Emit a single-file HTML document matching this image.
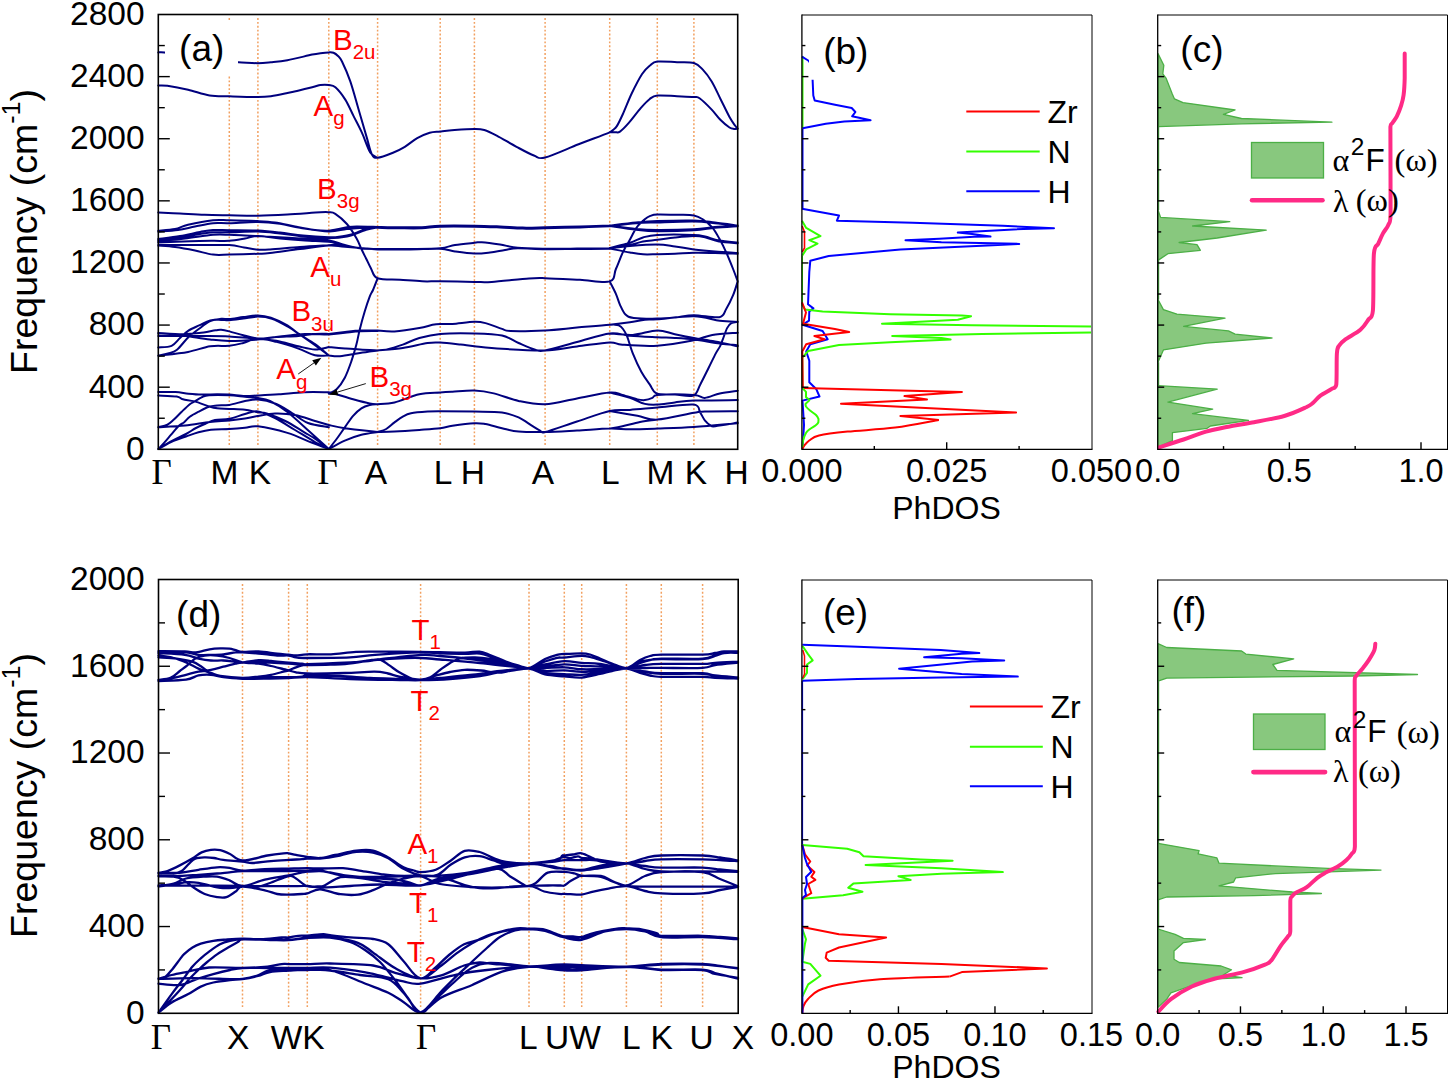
<!DOCTYPE html>
<html><head><meta charset="utf-8"><style>
html,body{margin:0;padding:0;background:#fff;}
svg{display:block;}
</style></head><body>
<svg width="1450" height="1081" viewBox="0 0 1450 1081">
<rect width="1450" height="1081" fill="#fff"/>
<line x1="229.3" y1="18" x2="229.3" y2="447" stroke="#F2A060" stroke-width="1.5" stroke-dasharray="1.9 2"/>
<line x1="257.9" y1="18" x2="257.9" y2="447" stroke="#F2A060" stroke-width="1.5" stroke-dasharray="1.9 2"/>
<line x1="328.8" y1="18" x2="328.8" y2="447" stroke="#F2A060" stroke-width="1.5" stroke-dasharray="1.9 2"/>
<line x1="377.6" y1="18" x2="377.6" y2="447" stroke="#F2A060" stroke-width="1.5" stroke-dasharray="1.9 2"/>
<line x1="440.2" y1="18" x2="440.2" y2="447" stroke="#F2A060" stroke-width="1.5" stroke-dasharray="1.9 2"/>
<line x1="474.4" y1="18" x2="474.4" y2="447" stroke="#F2A060" stroke-width="1.5" stroke-dasharray="1.9 2"/>
<line x1="545.1" y1="18" x2="545.1" y2="447" stroke="#F2A060" stroke-width="1.5" stroke-dasharray="1.9 2"/>
<line x1="609.7" y1="18" x2="609.7" y2="447" stroke="#F2A060" stroke-width="1.5" stroke-dasharray="1.9 2"/>
<line x1="657.3" y1="18" x2="657.3" y2="447" stroke="#F2A060" stroke-width="1.5" stroke-dasharray="1.9 2"/>
<line x1="693.9" y1="18" x2="693.9" y2="447" stroke="#F2A060" stroke-width="1.5" stroke-dasharray="1.9 2"/>
<path d="M158.30,52.40 C159.33,52.43 161.72,52.08 164.50,52.60 C167.28,53.12 169.08,54.30 175.00,55.50 C180.92,56.70 192.50,58.75 200.00,59.80 C207.50,60.85 213.57,61.38 220.00,61.80 C226.43,62.22 232.30,62.07 238.60,62.30 C244.90,62.53 252.42,63.20 257.80,63.20 C263.18,63.20 265.97,62.80 270.90,62.30 C275.83,61.80 280.52,61.48 287.40,60.20 C294.28,58.92 306.68,55.77 312.20,54.60 C317.72,53.43 317.73,53.57 320.50,53.20 C323.27,52.83 326.63,52.47 328.80,52.40 C330.97,52.33 331.97,52.20 333.50,52.80 C335.03,53.40 336.58,54.55 338.00,56.00 C339.42,57.45 339.95,57.27 342.00,61.50 C344.05,65.73 347.53,73.40 350.30,81.40 C353.07,89.40 355.85,100.13 358.60,109.50 C361.35,118.87 364.60,130.15 366.80,137.60 C369.00,145.05 370.00,150.83 371.80,154.20 C373.60,157.57 374.17,158.00 377.60,157.80 C381.03,157.60 387.87,154.83 392.40,153.00 C396.93,151.17 400.67,149.28 404.80,146.80 C408.93,144.32 413.05,140.45 417.20,138.10 C421.35,135.75 425.87,133.82 429.70,132.70 C433.53,131.58 436.07,131.85 440.20,131.40 C444.33,130.95 448.80,130.40 454.50,130.00 C460.20,129.60 469.43,129.00 474.40,129.00 C479.37,129.00 480.58,128.90 484.30,130.00 C488.02,131.10 491.33,132.80 496.70,135.60 C502.07,138.40 510.30,143.48 516.50,146.80 C522.70,150.12 529.13,153.72 533.90,155.50 C538.67,157.28 537.65,159.37 545.10,157.50 C552.55,155.63 567.83,148.50 578.60,144.30 C589.37,140.10 603.97,134.68 609.70,132.30 C613.00,129.92 611.78,131.07 613.00,130.00 C614.22,128.93 615.35,128.57 617.00,125.90 C618.65,123.23 620.43,119.43 622.90,114.00 C625.37,108.57 628.60,99.97 631.80,93.30 C635.00,86.63 639.07,78.63 642.10,74.00 C645.13,69.37 647.47,67.57 650.00,65.50 C652.53,63.43 652.80,62.15 657.30,61.60 C661.80,61.05 670.90,61.97 677.00,62.20 C683.10,62.43 689.60,61.77 693.90,63.00 C698.20,64.23 699.83,66.52 702.80,69.60 C705.77,72.68 708.73,76.57 711.70,81.50 C714.67,86.43 717.63,93.28 720.60,99.20 C723.57,105.12 727.10,112.62 729.50,117.00 C731.90,121.38 733.63,123.57 735.00,125.50 C736.37,127.43 737.25,128.08 737.70,128.60 M158.30,85.50 C159.82,85.55 162.43,85.10 167.40,85.80 C172.37,86.50 181.07,88.10 188.10,89.70 C195.13,91.30 202.73,94.30 209.60,95.40 C216.47,96.50 221.27,96.02 229.30,96.30 C237.33,96.58 250.87,97.10 257.80,97.10 C264.73,97.10 265.97,96.98 270.90,96.30 C275.83,95.62 280.52,94.52 287.40,93.00 C294.28,91.48 306.68,88.53 312.20,87.20 C317.72,85.87 317.73,85.37 320.50,85.00 C323.27,84.63 326.32,84.63 328.80,85.00 C331.28,85.37 332.65,84.77 335.40,87.20 C338.15,89.63 342.27,94.78 345.30,99.60 C348.33,104.42 350.83,110.58 353.60,116.10 C356.37,121.62 359.13,126.63 361.90,132.70 C364.67,138.77 367.58,148.32 370.20,152.50 C372.82,156.68 376.37,156.92 377.60,157.80 M609.70,132.30 C610.58,132.28 613.28,132.32 615.00,132.20 C616.72,132.08 617.70,133.15 620.00,131.60 C622.30,130.05 625.35,126.82 628.80,122.90 C632.25,118.98 637.25,112.05 640.70,108.10 C644.15,104.15 646.73,101.30 649.50,99.20 C652.27,97.10 652.72,96.00 657.30,95.50 C661.88,95.00 670.90,95.95 677.00,96.20 C683.10,96.45 690.08,96.62 693.90,97.00 C697.72,97.38 696.93,96.40 699.90,98.50 C702.87,100.60 708.25,106.02 711.70,109.60 C715.15,113.18 717.63,117.02 720.60,120.00 C723.57,122.98 727.27,126.02 729.50,127.50 C731.73,128.98 732.63,128.72 734.00,128.90 C735.37,129.08 737.08,128.65 737.70,128.60 M158.30,212.40 C161.92,212.58 172.27,213.10 180.00,213.50 C187.73,213.90 196.48,214.50 204.70,214.80 C212.92,215.10 220.43,215.15 229.30,215.30 C238.17,215.45 248.22,215.83 257.90,215.70 C267.58,215.57 276.97,215.07 287.40,214.50 C297.83,213.93 313.60,212.67 320.50,212.30 C327.40,211.93 326.33,212.05 328.80,212.30 C331.27,212.55 332.28,211.85 335.30,213.80 C338.32,215.75 343.35,219.90 346.90,224.00 C350.45,228.10 354.18,234.23 356.60,238.40 C359.02,242.57 359.80,245.62 361.40,249.00 C363.00,252.38 364.60,255.47 366.20,258.70 C367.80,261.93 369.10,265.13 371.00,268.40 C372.90,271.67 372.77,276.40 377.60,278.30 C382.43,280.20 392.57,279.30 400.00,279.80 C407.43,280.30 415.50,281.05 422.20,281.30 C428.90,281.55 431.50,281.20 440.20,281.30 C448.90,281.40 465.82,281.80 474.40,281.90 C482.98,282.00 482.60,282.47 491.70,281.90 C500.80,281.33 520.10,279.12 529.00,278.50 C537.90,277.88 536.60,277.98 545.10,278.20 C553.60,278.42 569.23,279.27 580.00,279.80 C590.77,280.33 603.72,283.20 609.70,281.40 C615.68,279.60 613.72,273.83 615.90,269.00 C618.08,264.17 620.50,257.23 622.80,252.40 C625.10,247.57 627.40,244.13 629.70,240.00 C632.00,235.87 634.08,231.05 636.60,227.60 C639.12,224.15 642.52,221.25 644.80,219.30 C647.08,217.35 648.22,216.70 650.30,215.90 C652.38,215.10 652.70,214.68 657.30,214.50 C661.90,214.32 671.80,214.65 677.90,214.80 C684.00,214.95 689.75,214.65 693.90,215.40 C698.05,216.15 699.72,217.27 702.80,219.30 C705.88,221.33 709.65,224.38 712.40,227.60 C715.15,230.82 717.00,234.47 719.30,238.60 C721.60,242.73 723.90,247.33 726.20,252.40 C728.50,257.47 731.18,264.17 733.10,269.00 C735.02,273.83 736.93,279.33 737.70,281.40 M328.80,393.60 C330.10,392.88 333.93,391.95 336.60,389.30 C339.27,386.65 342.33,382.38 344.80,377.70 C347.27,373.02 349.47,366.72 351.40,361.20 C353.33,355.68 355.02,349.85 356.40,344.60 C357.78,339.35 358.32,335.22 359.70,329.70 C361.08,324.18 363.03,317.02 364.70,311.50 C366.37,305.98 368.32,300.18 369.70,296.60 C371.08,293.02 371.68,293.05 373.00,290.00 C374.32,286.95 376.83,280.25 377.60,278.30 M609.70,281.40 C610.73,283.47 614.18,289.90 615.90,293.80 C617.62,297.70 618.40,301.35 620.00,304.80 C621.60,308.25 623.20,312.32 625.50,314.50 C627.80,316.68 628.50,317.22 633.80,317.90 C639.10,318.58 650.43,318.67 657.30,318.60 C664.17,318.53 668.90,318.07 675.00,317.50 C681.10,316.93 686.52,315.25 693.90,315.20 C701.28,315.15 713.92,318.23 719.30,317.20 C724.68,316.17 723.90,312.67 726.20,309.00 C728.50,305.33 731.18,299.80 733.10,295.20 C735.02,290.60 736.93,283.70 737.70,281.40 M158.30,230.80 C161.08,230.50 170.05,230.00 175.00,229.00 C179.95,228.00 181.67,226.25 188.00,224.80 C194.33,223.35 206.12,221.05 213.00,220.30 C219.88,219.55 221.82,220.17 229.30,220.30 C236.78,220.43 250.28,220.73 257.90,221.10 C265.52,221.47 268.82,221.60 275.00,222.50 C281.18,223.40 288.33,225.25 295.00,226.50 C301.67,227.75 309.37,229.30 315.00,230.00 C320.63,230.70 325.10,230.82 328.80,230.70 C332.50,230.58 334.18,229.87 337.20,229.30 C340.22,228.73 343.67,227.78 346.90,227.30 C350.13,226.82 351.48,226.47 356.60,226.40 C361.72,226.33 374.10,226.82 377.60,226.90 M158.30,231.60 C161.58,231.33 171.88,230.85 178.00,230.00 C184.12,229.15 189.17,227.63 195.00,226.50 C200.83,225.37 207.28,223.75 213.00,223.20 C218.72,222.65 221.82,223.40 229.30,223.20 C236.78,223.00 249.45,221.90 257.90,222.00 C266.35,222.10 272.98,222.83 280.00,223.80 C287.02,224.77 291.87,226.53 300.00,227.80 C308.13,229.07 320.98,231.20 328.80,231.40 C336.62,231.60 340.67,229.65 346.90,229.00 C353.13,228.35 361.08,227.77 366.20,227.50 C371.32,227.23 375.70,227.42 377.60,227.40 M158.30,239.00 C161.92,238.50 173.05,237.17 180.00,236.00 C186.95,234.83 194.50,233.00 200.00,232.00 C205.50,231.00 208.12,230.30 213.00,230.00 C217.88,229.70 221.82,230.10 229.30,230.20 C236.78,230.30 249.45,230.22 257.90,230.60 C266.35,230.98 272.48,231.68 280.00,232.50 C287.52,233.32 294.87,234.70 303.00,235.50 C311.13,236.30 323.10,237.05 328.80,237.30 C334.50,237.55 334.18,237.28 337.20,237.00 C340.22,236.72 343.67,236.32 346.90,235.60 C350.13,234.88 353.38,233.83 356.60,232.70 C359.82,231.57 362.70,229.77 366.20,228.80 C369.70,227.83 375.70,227.22 377.60,226.90 M158.30,240.20 C161.92,239.75 173.05,238.53 180.00,237.50 C186.95,236.47 194.50,234.87 200.00,234.00 C205.50,233.13 208.12,232.58 213.00,232.30 C217.88,232.02 221.82,232.43 229.30,232.30 C236.78,232.17 249.45,231.30 257.90,231.50 C266.35,231.70 272.48,232.67 280.00,233.50 C287.52,234.33 294.87,235.70 303.00,236.50 C311.13,237.30 321.48,238.30 328.80,238.30 C336.12,238.30 340.67,237.92 346.90,236.50 C353.13,235.08 361.08,231.32 366.20,229.80 C371.32,228.28 375.70,227.80 377.60,227.40 M158.30,241.20 C162.75,240.75 175.88,239.57 185.00,238.50 C194.12,237.43 205.62,235.42 213.00,234.80 C220.38,234.18 223.97,234.68 229.30,234.80 C234.63,234.92 240.23,235.27 245.00,235.50 C249.77,235.73 253.73,235.98 257.90,236.20 C262.07,236.42 262.98,236.42 270.00,236.80 C277.02,237.18 290.20,237.90 300.00,238.50 C309.80,239.10 321.80,239.45 328.80,240.40 C335.80,241.35 338.18,243.15 342.00,244.20 C345.82,245.25 348.47,245.97 351.70,246.70 C354.93,247.43 357.08,248.20 361.40,248.60 C365.72,249.00 374.90,249.02 377.60,249.10 M158.30,242.40 C163.58,242.20 180.88,241.47 190.00,241.20 C199.12,240.93 206.45,240.87 213.00,240.80 C219.55,240.73 223.97,241.18 229.30,240.80 C234.63,240.42 240.23,239.30 245.00,238.50 C249.77,237.70 252.07,236.00 257.90,236.00 C263.73,236.00 272.15,237.75 280.00,238.50 C287.85,239.25 296.87,239.95 305.00,240.50 C313.13,241.05 322.63,241.12 328.80,241.80 C334.97,242.48 336.57,243.50 342.00,244.60 C347.43,245.70 355.47,247.65 361.40,248.40 C367.33,249.15 374.90,248.98 377.60,249.10 M158.30,245.10 C165.25,245.10 188.17,245.10 200.00,245.10 C211.83,245.10 221.97,244.70 229.30,245.10 C236.63,245.50 239.23,246.73 244.00,247.50 C248.77,248.27 253.57,249.37 257.90,249.70 C262.23,250.03 262.98,249.95 270.00,249.50 C277.02,249.05 290.20,247.72 300.00,247.00 C309.80,246.28 322.60,245.58 328.80,245.20 C335.00,244.82 332.83,244.32 337.20,244.70 C341.57,245.08 348.27,246.73 355.00,247.50 C361.73,248.27 373.83,249.00 377.60,249.30 M158.30,245.60 C161.08,245.83 168.88,246.18 175.00,247.00 C181.12,247.82 188.67,249.23 195.00,250.50 C201.33,251.77 207.28,253.92 213.00,254.60 C218.72,255.28 221.82,254.73 229.30,254.60 C236.78,254.47 251.12,254.07 257.90,253.80 C264.68,253.53 262.98,253.80 270.00,253.00 C277.02,252.20 290.20,250.23 300.00,249.00 C309.80,247.77 321.30,245.97 328.80,245.60 C336.30,245.23 336.87,246.15 345.00,246.80 C353.13,247.45 372.17,249.05 377.60,249.50 M377.60,226.90 C381.33,226.97 392.60,227.25 400.00,227.30 C407.40,227.35 415.30,227.47 422.00,227.20 C428.70,226.93 431.47,225.95 440.20,225.70 C448.93,225.45 464.43,225.57 474.40,225.70 C484.37,225.83 491.95,226.18 500.00,226.50 C508.05,226.82 515.18,227.47 522.70,227.60 C530.22,227.73 535.55,227.50 545.10,227.30 C554.65,227.10 569.23,226.70 580.00,226.40 C590.77,226.10 604.75,225.65 609.70,225.50 M377.60,227.80 C381.33,227.88 392.60,228.22 400.00,228.30 C407.40,228.38 415.30,228.57 422.00,228.30 C428.70,228.03 431.47,226.97 440.20,226.70 C448.93,226.43 464.43,226.57 474.40,226.70 C484.37,226.83 491.95,227.18 500.00,227.50 C508.05,227.82 515.18,228.47 522.70,228.60 C530.22,228.73 535.55,228.50 545.10,228.30 C554.65,228.10 569.23,227.73 580.00,227.40 C590.77,227.07 604.75,226.48 609.70,226.30 M377.60,249.10 C383.00,249.08 399.57,249.15 410.00,249.00 C420.43,248.85 432.70,248.87 440.20,248.20 C447.70,247.53 449.30,245.90 455.00,245.00 C460.70,244.10 469.93,243.27 474.40,242.80 C478.87,242.33 477.53,241.92 481.80,242.20 C486.07,242.48 494.00,243.57 500.00,244.50 C506.00,245.43 510.28,247.10 517.80,247.80 C525.32,248.50 535.23,248.57 545.10,248.70 C554.97,248.83 566.23,248.68 577.00,248.60 C587.77,248.52 604.25,248.27 609.70,248.20 M377.60,249.60 C383.00,249.58 399.57,249.63 410.00,249.50 C420.43,249.37 432.70,248.47 440.20,248.80 C447.70,249.13 449.30,250.70 455.00,251.50 C460.70,252.30 468.57,253.43 474.40,253.60 C480.23,253.77 484.90,253.10 490.00,252.50 C495.10,251.90 500.37,250.70 505.00,250.00 C509.63,249.30 511.12,248.43 517.80,248.30 C524.48,248.17 535.23,249.08 545.10,249.20 C554.97,249.32 566.23,249.07 577.00,249.00 C587.77,248.93 604.25,248.83 609.70,248.80 M609.70,225.50 C614.08,225.00 628.07,223.25 636.00,222.50 C643.93,221.75 647.65,221.33 657.30,221.00 C666.95,220.67 684.28,220.25 693.90,220.50 C703.52,220.75 707.70,221.67 715.00,222.50 C722.30,223.33 733.92,225.00 737.70,225.50 M609.70,226.00 C614.08,225.53 628.07,223.80 636.00,223.20 C643.93,222.60 647.65,222.67 657.30,222.40 C666.95,222.13 684.28,221.45 693.90,221.60 C703.52,221.75 707.70,222.53 715.00,223.30 C722.30,224.07 733.92,225.72 737.70,226.20 M609.70,225.50 C614.08,226.08 628.07,228.25 636.00,229.00 C643.93,229.75 647.65,229.97 657.30,230.00 C666.95,230.03 684.28,229.70 693.90,229.20 C703.52,228.70 707.70,227.62 715.00,227.00 C722.30,226.38 733.92,225.75 737.70,225.50 M609.70,226.00 C614.08,226.63 628.07,228.92 636.00,229.80 C643.93,230.68 647.65,231.22 657.30,231.30 C666.95,231.38 684.28,230.88 693.90,230.30 C703.52,229.72 707.70,228.48 715.00,227.80 C722.30,227.12 733.92,226.47 737.70,226.20 M609.70,248.00 C613.08,247.13 624.45,244.55 630.00,242.80 C635.55,241.05 638.45,238.82 643.00,237.50 C647.55,236.18 648.82,235.33 657.30,234.90 C665.78,234.47 685.95,234.62 693.90,234.90 C701.85,235.18 700.82,235.67 705.00,236.60 C709.18,237.53 713.55,239.52 719.00,240.50 C724.45,241.48 734.58,242.17 737.70,242.50 M609.70,248.40 C613.08,247.83 624.45,246.15 630.00,245.00 C635.55,243.85 638.45,242.37 643.00,241.50 C647.55,240.63 651.97,240.47 657.30,239.80 C662.63,239.13 668.90,238.13 675.00,237.50 C681.10,236.87 688.90,236.05 693.90,236.00 C698.90,235.95 700.82,236.28 705.00,237.20 C709.18,238.12 713.55,240.50 719.00,241.50 C724.45,242.50 734.58,242.92 737.70,243.20 M609.70,248.20 C613.08,247.83 622.07,246.60 630.00,246.00 C637.93,245.40 649.80,244.52 657.30,244.60 C664.80,244.68 668.90,245.70 675.00,246.50 C681.10,247.30 687.23,248.57 693.90,249.40 C700.57,250.23 707.70,250.90 715.00,251.50 C722.30,252.10 733.92,252.75 737.70,253.00 M609.70,248.60 C613.08,249.25 624.45,251.55 630.00,252.50 C635.55,253.45 638.45,254.02 643.00,254.30 C647.55,254.58 651.97,254.28 657.30,254.20 C662.63,254.12 668.90,254.03 675.00,253.80 C681.10,253.57 687.23,252.93 693.90,252.80 C700.57,252.67 707.70,252.83 715.00,253.00 C722.30,253.17 733.92,253.67 737.70,253.80 M158.30,355.70 C159.92,355.33 164.88,354.50 168.00,353.50 C171.12,352.50 173.65,352.37 177.00,349.70 C180.35,347.03 184.42,341.00 188.10,337.50 C191.78,334.00 195.42,331.45 199.10,328.70 C202.78,325.95 206.52,322.65 210.20,321.00 C213.88,319.35 218.02,319.13 221.20,318.80 C224.38,318.47 225.62,319.28 229.30,319.00 C232.98,318.72 238.53,317.70 243.30,317.10 C248.07,316.50 253.30,315.30 257.90,315.40 C262.50,315.50 265.98,316.03 270.90,317.70 C275.82,319.37 282.82,322.73 287.40,325.40 C291.98,328.07 293.80,330.58 298.40,333.70 C303.00,336.82 309.93,340.47 315.00,344.10 C320.07,347.73 326.50,353.60 328.80,355.50 M158.30,347.40 C160.52,347.13 167.98,347.37 171.60,345.80 C175.22,344.23 177.25,340.48 180.00,338.00 C182.75,335.52 184.92,333.00 188.10,330.90 C191.28,328.80 195.42,327.15 199.10,325.40 C202.78,323.65 206.52,321.32 210.20,320.40 C213.88,319.48 218.02,319.92 221.20,319.90 C224.38,319.88 225.62,320.52 229.30,320.30 C232.98,320.08 238.53,319.22 243.30,318.60 C248.07,317.98 253.12,316.58 257.90,316.60 C262.68,316.62 266.98,317.02 272.00,318.70 C277.02,320.38 283.33,324.02 288.00,326.70 C292.67,329.38 295.50,331.70 300.00,334.80 C304.50,337.90 310.20,341.85 315.00,345.30 C319.80,348.75 326.50,353.80 328.80,355.50 M158.30,332.90 C162.35,333.12 175.80,334.17 182.60,334.20 C189.40,334.23 193.58,333.75 199.10,333.10 C204.62,332.45 212.02,330.85 215.70,330.30 C219.38,329.75 218.93,329.62 221.20,329.80 C223.47,329.98 225.62,330.48 229.30,331.40 C232.98,332.32 238.53,334.10 243.30,335.30 C248.07,336.50 252.38,337.68 257.90,338.60 C263.42,339.52 269.65,339.52 276.40,340.80 C283.15,342.08 291.97,344.85 298.40,346.30 C304.83,347.75 309.93,349.37 315.00,349.50 C320.07,349.63 326.50,347.50 328.80,347.10 M158.30,335.90 C165.25,335.92 188.17,335.92 200.00,336.00 C211.83,336.08 219.65,335.97 229.30,336.40 C238.95,336.83 250.05,338.50 257.90,338.60 C265.75,338.70 269.65,337.45 276.40,337.00 C283.15,336.55 291.97,336.40 298.40,335.90 C304.83,335.40 309.93,334.33 315.00,334.00 C320.07,333.67 326.50,333.92 328.80,333.90 M158.30,355.70 C163.27,355.07 179.45,353.47 188.10,351.90 C196.75,350.33 203.33,347.32 210.20,346.30 C217.07,345.28 223.78,346.35 229.30,345.80 C234.82,345.25 238.53,344.20 243.30,343.00 C248.07,341.80 252.38,338.78 257.90,338.60 C263.42,338.42 269.65,340.23 276.40,341.90 C283.15,343.57 291.97,346.38 298.40,348.60 C304.83,350.82 309.93,354.07 315.00,355.20 C320.07,356.33 326.50,355.37 328.80,355.40 M158.30,333.40 C161.08,333.55 169.72,333.78 175.00,334.30 C180.28,334.82 184.17,335.63 190.00,336.50 C195.83,337.37 203.45,338.75 210.00,339.50 C216.55,340.25 221.32,341.00 229.30,341.00 C237.28,341.00 249.45,340.25 257.90,339.50 C266.35,338.75 272.15,337.42 280.00,336.50 C287.85,335.58 296.87,334.32 305.00,334.00 C313.13,333.68 324.83,334.50 328.80,334.60 M328.80,333.90 C331.50,333.58 339.80,332.57 345.00,332.00 C350.20,331.43 354.57,330.75 360.00,330.50 C365.43,330.25 374.67,330.50 377.60,330.50 M328.80,334.60 C331.50,334.30 339.80,333.37 345.00,332.80 C350.20,332.23 354.57,331.50 360.00,331.20 C365.43,330.90 374.67,331.03 377.60,331.00 M328.80,347.10 C331.50,347.33 339.80,348.08 345.00,348.50 C350.20,348.92 354.57,349.28 360.00,349.60 C365.43,349.92 374.67,350.27 377.60,350.40 M328.80,355.40 C330.67,355.53 334.80,356.62 340.00,356.20 C345.20,355.78 353.73,353.87 360.00,352.90 C366.27,351.93 374.67,350.82 377.60,350.40 M377.60,330.50 C380.42,330.65 387.55,331.80 394.50,331.40 C401.45,331.00 412.97,329.20 419.30,328.10 C425.63,327.00 429.02,325.50 432.50,324.80 C435.98,324.10 436.88,324.05 440.20,323.90 C443.52,323.75 446.70,324.25 452.40,323.90 C458.10,323.55 468.88,321.93 474.40,321.80 C479.92,321.67 480.90,321.92 485.50,323.10 C490.10,324.28 497.87,327.58 502.00,328.90 C506.13,330.22 503.12,330.75 510.30,331.00 C517.48,331.25 533.98,330.97 545.10,330.40 C556.22,329.83 566.23,328.53 577.00,327.60 C587.77,326.67 600.88,325.70 609.70,324.80 C618.52,323.90 624.03,323.05 629.90,322.20 C635.77,321.35 640.33,320.20 644.90,319.70 C649.47,319.20 649.13,319.78 657.30,319.20 C665.47,318.62 683.48,315.95 693.90,316.20 C704.32,316.45 712.50,319.75 719.80,320.70 C727.10,321.65 734.72,321.70 737.70,321.90 M377.60,350.40 C379.03,350.27 382.00,350.57 386.20,349.60 C390.40,348.63 397.28,346.53 402.80,344.60 C408.32,342.67 413.07,339.78 419.30,338.00 C425.53,336.22 431.02,334.67 440.20,333.90 C449.38,333.13 464.10,333.13 474.40,333.40 C484.70,333.67 494.63,333.90 502.00,335.50 C509.37,337.10 513.07,340.65 518.60,343.00 C524.13,345.35 530.78,348.37 535.20,349.60 C539.62,350.83 538.13,351.67 545.10,350.40 C552.07,349.13 566.23,344.83 577.00,342.00 C587.77,339.17 600.88,334.45 609.70,333.40 C618.52,332.35 621.97,335.07 629.90,335.70 C637.83,336.33 649.82,336.83 657.30,337.20 C664.78,337.57 668.70,337.53 674.80,337.90 C680.90,338.27 687.65,338.65 693.90,339.40 C700.15,340.15 705.00,341.40 712.30,342.40 C719.60,343.40 733.47,344.90 737.70,345.40 M377.60,350.40 C381.80,349.98 394.47,349.13 402.80,347.90 C411.13,346.67 421.37,343.88 427.60,343.00 C433.83,342.12 434.68,342.33 440.20,342.60 C445.72,342.87 455.00,343.98 460.70,344.60 C466.40,345.22 467.52,345.60 474.40,346.30 C481.28,347.00 490.22,348.12 502.00,348.80 C513.78,349.48 532.60,350.78 545.10,350.40 C557.60,350.02 566.23,347.83 577.00,346.50 C587.77,345.17 602.13,342.70 609.70,342.40 C617.27,342.10 614.47,344.15 622.40,344.70 C630.33,345.25 645.38,346.45 657.30,345.70 C669.22,344.95 684.73,342.00 693.90,340.20 C703.07,338.40 705.00,336.15 712.30,334.90 C719.60,333.65 733.47,333.07 737.70,332.70 M609.70,333.40 C613.57,333.65 624.97,335.40 632.90,334.90 C640.83,334.40 650.32,330.52 657.30,330.40 C664.28,330.28 668.70,332.95 674.80,334.20 C680.90,335.45 687.20,336.68 693.90,337.90 C700.60,339.12 707.70,340.12 715.00,341.50 C722.30,342.88 733.92,345.42 737.70,346.20 M609.70,324.80 C610.42,324.77 612.48,324.52 614.00,324.60 C615.52,324.68 617.30,324.57 618.80,325.30 C620.30,326.03 621.60,327.12 623.00,329.00 C624.40,330.88 625.57,332.53 627.20,336.60 C628.83,340.67 630.45,347.55 632.80,353.40 C635.15,359.25 638.48,366.53 641.30,371.70 C644.12,376.87 647.13,380.77 649.70,384.40 C652.27,388.03 652.48,391.82 656.70,393.50 C660.92,395.18 668.90,394.15 675.00,394.50 C681.10,394.85 689.08,397.28 693.30,395.60 C697.52,393.92 697.72,389.08 700.30,384.40 C702.88,379.72 706.22,372.67 708.80,367.50 C711.38,362.33 713.93,356.92 715.80,353.40 C717.67,349.88 718.83,348.73 720.00,346.40 C721.17,344.07 721.62,342.45 722.80,339.40 C723.98,336.35 725.68,330.80 727.10,328.10 C728.52,325.40 729.53,324.25 731.30,323.20 C733.07,322.15 736.63,322.03 737.70,321.80 M158.30,392.00 C161.17,392.02 170.47,391.82 175.50,392.10 C180.53,392.38 184.15,393.28 188.50,393.70 C192.85,394.12 196.83,394.50 201.60,394.60 C206.37,394.70 212.48,394.30 217.10,394.30 C221.72,394.30 224.65,394.32 229.30,394.60 C233.95,394.88 240.23,395.85 245.00,396.00 C249.77,396.15 252.23,395.78 257.90,395.50 C263.57,395.22 271.32,394.85 279.00,394.30 C286.68,393.75 295.70,392.55 304.00,392.20 C312.30,391.85 324.67,392.20 328.80,392.20 M158.30,395.50 C161.37,395.67 172.60,395.87 176.70,396.50 C180.80,397.13 179.90,398.48 182.90,399.30 C185.90,400.12 190.35,400.22 194.70,401.40 C199.05,402.58 205.27,405.25 209.00,406.40 C212.73,407.55 213.72,407.88 217.10,408.30 C220.48,408.72 224.65,408.65 229.30,408.90 C233.95,409.15 240.23,409.23 245.00,409.80 C249.77,410.37 254.28,411.68 257.90,412.30 C261.52,412.92 262.13,412.05 266.70,413.50 C271.27,414.95 279.08,417.90 285.30,421.00 C291.52,424.10 298.82,429.00 304.00,432.10 C309.18,435.20 312.27,436.78 316.40,439.60 C320.53,442.42 326.73,447.43 328.80,449.00 M158.30,427.20 C159.82,426.78 164.85,425.93 167.40,424.70 C169.95,423.47 171.22,421.97 173.60,419.80 C175.98,417.63 179.00,414.30 181.70,411.70 C184.40,409.10 187.63,405.92 189.80,404.20 C191.97,402.48 192.73,402.53 194.70,401.40 C196.67,400.27 199.22,398.43 201.60,397.40 C203.98,396.37 204.38,395.57 209.00,395.20 C213.62,394.83 223.30,394.93 229.30,395.20 C235.30,395.47 240.23,396.33 245.00,396.80 C249.77,397.27 253.73,397.30 257.90,398.00 C262.07,398.70 265.08,398.67 270.00,401.00 C274.92,403.33 280.73,406.83 287.40,412.00 C294.07,417.17 303.10,425.83 310.00,432.00 C316.90,438.17 325.67,446.17 328.80,449.00 M158.30,449.00 C159.30,447.95 162.17,445.08 164.30,442.70 C166.43,440.32 168.72,437.48 171.10,434.70 C173.48,431.92 176.42,428.08 178.60,426.00 C180.78,423.92 182.33,423.75 184.20,422.20 C186.07,420.65 187.42,418.45 189.80,416.70 C192.18,414.95 195.30,413.37 198.50,411.70 C201.70,410.03 205.90,407.73 209.00,406.70 C212.10,405.67 213.72,405.80 217.10,405.50 C220.48,405.20 224.65,405.63 229.30,404.90 C233.95,404.17 240.23,402.00 245.00,401.10 C249.77,400.20 252.90,399.10 257.90,399.50 C262.90,399.90 269.32,401.25 275.00,403.50 C280.68,405.75 286.50,409.75 292.00,413.00 C297.50,416.25 301.87,420.63 308.00,423.00 C314.13,425.37 325.33,426.50 328.80,427.20 M158.30,449.00 C160.58,447.67 167.38,443.50 172.00,441.00 C176.62,438.50 182.00,436.17 186.00,434.00 C190.00,431.83 192.83,429.67 196.00,428.00 C199.17,426.33 201.83,425.33 205.00,424.00 C208.17,422.67 210.95,420.87 215.00,420.00 C219.05,419.13 224.30,419.80 229.30,418.80 C234.30,417.80 240.23,415.23 245.00,414.00 C249.77,412.77 252.90,410.73 257.90,411.40 C262.90,412.07 268.82,414.90 275.00,418.00 C281.18,421.10 288.33,426.00 295.00,430.00 C301.67,434.00 309.37,438.83 315.00,442.00 C320.63,445.17 326.50,447.83 328.80,449.00 M158.30,449.00 C160.85,447.65 168.98,442.98 173.60,440.90 C178.22,438.82 181.85,437.95 186.00,436.50 C190.15,435.05 194.35,433.33 198.50,432.20 C202.65,431.07 205.77,430.23 210.90,429.70 C216.03,429.17 223.62,429.32 229.30,429.00 C234.98,428.68 240.23,428.25 245.00,427.80 C249.77,427.35 250.83,425.45 257.90,426.30 C264.97,427.15 278.35,430.15 287.40,432.90 C296.45,435.65 305.30,440.12 312.20,442.80 C319.10,445.48 326.03,447.97 328.80,449.00 M158.30,427.20 C162.75,426.92 176.38,426.37 185.00,425.50 C193.62,424.63 202.62,422.83 210.00,422.00 C217.38,421.17 223.47,421.08 229.30,420.50 C235.13,419.92 240.23,419.25 245.00,418.50 C249.77,417.75 252.90,416.83 257.90,416.00 C262.90,415.17 268.82,413.67 275.00,413.50 C281.18,413.33 288.33,413.75 295.00,415.00 C301.67,416.25 309.37,419.33 315.00,421.00 C320.63,422.67 326.50,424.33 328.80,425.00 M328.80,392.20 C330.10,392.55 332.55,393.13 336.60,394.30 C340.65,395.47 347.58,397.68 353.10,399.20 C358.62,400.72 365.62,402.57 369.70,403.40 C373.78,404.23 376.28,404.07 377.60,404.20 M328.80,449.00 C330.10,447.33 333.93,442.60 336.60,439.00 C339.27,435.40 342.05,431.27 344.80,427.40 C347.55,423.53 350.33,418.98 353.10,415.80 C355.87,412.62 358.63,410.10 361.40,408.30 C364.17,406.50 367.00,405.68 369.70,405.00 C372.40,404.32 376.28,404.33 377.60,404.20 M328.80,449.00 C331.47,447.60 339.37,442.97 344.80,440.60 C350.23,438.23 355.93,436.23 361.40,434.80 C366.87,433.37 374.90,432.47 377.60,432.00 M328.80,425.00 C331.47,425.53 336.67,427.03 344.80,428.20 C352.93,429.37 372.13,431.37 377.60,432.00 M377.60,404.20 C380.42,403.92 387.55,404.15 394.50,402.50 C401.45,400.85 411.68,395.95 419.30,394.30 C426.92,392.65 434.68,393.02 440.20,392.60 C445.72,392.18 446.70,392.13 452.40,391.80 C458.10,391.47 467.50,390.33 474.40,390.60 C481.30,390.87 486.43,391.68 493.80,393.40 C501.17,395.12 510.05,399.10 518.60,400.90 C527.15,402.70 535.37,404.62 545.10,404.20 C554.83,403.78 566.23,400.33 577.00,398.40 C587.77,396.47 602.13,393.18 609.70,392.60 C617.27,392.02 617.78,393.77 622.40,394.90 C627.02,396.03 633.65,398.53 637.40,399.40 C641.15,400.27 642.40,400.35 644.90,400.10 C647.40,399.85 650.33,398.77 652.40,397.90 C654.47,397.03 652.40,395.40 657.30,394.90 C664.22,394.40 685.98,394.40 693.90,394.90 C701.82,395.40 700.48,398.15 704.80,397.90 C709.12,397.65 714.32,394.60 719.80,393.40 C725.28,392.20 734.72,391.15 737.70,390.70 M609.70,392.60 C613.07,393.48 624.03,396.02 629.90,397.90 C635.77,399.78 640.33,402.78 644.90,403.90 C649.47,405.02 652.32,404.85 657.30,404.60 C662.28,404.35 668.70,403.07 674.80,402.40 C680.90,401.73 683.42,400.98 693.90,400.60 C704.38,400.22 730.40,400.18 737.70,400.10 M377.60,432.00 C379.03,431.50 383.38,430.60 386.20,429.00 C389.02,427.40 391.73,424.47 394.50,422.40 C397.27,420.33 400.05,418.12 402.80,416.60 C405.55,415.08 406.87,414.13 411.00,413.30 C415.13,412.47 422.73,411.93 427.60,411.60 C432.47,411.27 432.40,411.30 440.20,411.30 C448.00,411.30 464.10,411.40 474.40,411.60 C484.70,411.80 494.63,411.53 502.00,412.50 C509.37,413.47 513.63,415.20 518.60,417.40 C523.57,419.60 528.22,423.48 531.80,425.70 C535.38,427.92 537.88,429.65 540.10,430.70 C542.32,431.75 540.10,433.53 545.10,432.00 C551.25,430.47 566.23,425.00 577.00,421.50 C587.77,418.00 600.88,412.93 609.70,411.00 C618.52,409.07 621.97,410.47 629.90,409.90 C637.83,409.33 646.63,408.48 657.30,407.60 C667.97,406.72 686.73,403.73 693.90,404.60 C700.30,405.47 698.48,410.18 700.30,412.80 C702.12,415.42 703.05,418.17 704.80,420.30 C706.55,422.43 709.05,424.60 710.80,425.60 C712.55,426.60 710.82,426.80 715.30,426.30 C719.78,425.80 733.97,423.22 737.70,422.60 M609.70,411.00 C614.32,411.80 629.47,414.37 637.40,415.80 C645.33,417.23 647.88,420.10 657.30,419.60 C666.72,419.10 685.98,414.13 693.90,412.80 C701.82,411.47 697.50,411.85 704.80,411.60 C712.10,411.35 732.22,411.35 737.70,411.30 M377.60,432.00 C380.42,431.92 387.55,431.85 394.50,431.50 C401.45,431.15 411.68,430.45 419.30,429.90 C426.92,429.35 434.68,428.90 440.20,428.20 C445.72,427.50 446.70,426.53 452.40,425.70 C458.10,424.87 468.88,423.47 474.40,423.20 C479.92,422.93 480.90,423.27 485.50,424.10 C490.10,424.93 496.48,426.97 502.00,428.20 C507.52,429.43 511.42,430.87 518.60,431.50 C525.78,432.13 535.37,432.17 545.10,432.00 C554.83,431.83 566.23,431.07 577.00,430.50 C587.77,429.93 600.88,428.80 609.70,428.60 C618.52,428.40 621.97,429.30 629.90,429.30 C637.83,429.30 646.63,428.97 657.30,428.60 C667.97,428.23 680.50,427.98 693.90,427.10 C707.30,426.22 730.40,423.93 737.70,423.30 M609.70,428.60 C611.82,428.22 617.35,427.40 622.40,426.30 C627.45,425.20 634.18,423.12 640.00,422.00 C645.82,420.88 654.42,420.00 657.30,419.60" fill="none" stroke="#00007e" stroke-width="2" stroke-linejoin="round" stroke-linecap="round"/>
<rect x="165" y="20" width="73" height="56" fill="#fff"/>
<text x="201.7" y="61" font-family="Liberation Sans" font-size="37" text-anchor="middle" fill="#000" >(a)</text>
<text x="333.0" y="49.8" font-family="Liberation Sans" font-size="29.5" fill="#ff0000">B<tspan font-size="20.5" dy="9.3">2u</tspan></text>
<text x="313.6" y="116" font-family="Liberation Sans" font-size="29.5" fill="#ff0000">A<tspan font-size="20.5" dy="9.3">g</tspan></text>
<text x="317.1" y="198.9" font-family="Liberation Sans" font-size="29.5" fill="#ff0000">B<tspan font-size="20.5" dy="9.3">3g</tspan></text>
<text x="310.3" y="276.9" font-family="Liberation Sans" font-size="29.5" fill="#ff0000">A<tspan font-size="20.5" dy="9.3">u</tspan></text>
<text x="291.4" y="321.3" font-family="Liberation Sans" font-size="29.5" fill="#ff0000">B<tspan font-size="20.5" dy="9.3">3u</tspan></text>
<text x="276.3" y="379.3" font-family="Liberation Sans" font-size="29.5" fill="#ff0000">A<tspan font-size="20.5" dy="9.3">g</tspan></text>
<text x="369.5" y="386.7" font-family="Liberation Sans" font-size="29.5" fill="#ff0000">B<tspan font-size="20.5" dy="9.3">3g</tspan></text>
<line x1="298.2" y1="374" x2="314.04" y2="362.87" stroke="#000" stroke-width="0.9"/><path d="M321.4,357.7 L315.88,365.49 L312.20,360.26 Z" fill="#000"/>
<line x1="365.8" y1="383.6" x2="337.42" y2="392.11" stroke="#000" stroke-width="0.9"/><path d="M328.8,394.7 L336.50,389.05 L338.34,395.18 Z" fill="#000"/>
<rect x="158.3" y="14.5" width="579.4000000000001" height="434.8" fill="none" stroke="#000" stroke-width="1.6"/>
<line x1="158.3" y1="387.1857142857143" x2="169.8" y2="387.1857142857143" stroke="#000" stroke-width="1.4"/>
<line x1="158.3" y1="325.07142857142856" x2="169.8" y2="325.07142857142856" stroke="#000" stroke-width="1.4"/>
<line x1="158.3" y1="262.95714285714286" x2="169.8" y2="262.95714285714286" stroke="#000" stroke-width="1.4"/>
<line x1="158.3" y1="200.84285714285716" x2="169.8" y2="200.84285714285716" stroke="#000" stroke-width="1.4"/>
<line x1="158.3" y1="138.72857142857146" x2="169.8" y2="138.72857142857146" stroke="#000" stroke-width="1.4"/>
<line x1="158.3" y1="76.6142857142857" x2="169.8" y2="76.6142857142857" stroke="#000" stroke-width="1.4"/>
<line x1="158.3" y1="418.24285714285713" x2="164.8" y2="418.24285714285713" stroke="#000" stroke-width="1.4"/>
<line x1="158.3" y1="356.12857142857143" x2="164.8" y2="356.12857142857143" stroke="#000" stroke-width="1.4"/>
<line x1="158.3" y1="294.01428571428573" x2="164.8" y2="294.01428571428573" stroke="#000" stroke-width="1.4"/>
<line x1="158.3" y1="231.9" x2="164.8" y2="231.9" stroke="#000" stroke-width="1.4"/>
<line x1="158.3" y1="169.78571428571428" x2="164.8" y2="169.78571428571428" stroke="#000" stroke-width="1.4"/>
<line x1="158.3" y1="107.67142857142858" x2="164.8" y2="107.67142857142858" stroke="#000" stroke-width="1.4"/>
<line x1="158.3" y1="45.55714285714288" x2="164.8" y2="45.55714285714288" stroke="#000" stroke-width="1.4"/>
<text x="144.6" y="459.7" font-family="Liberation Sans" font-size="33.5" text-anchor="end" fill="#000" >0</text>
<text x="144.6" y="397.5857142857143" font-family="Liberation Sans" font-size="33.5" text-anchor="end" fill="#000" >400</text>
<text x="144.6" y="335.47142857142853" font-family="Liberation Sans" font-size="33.5" text-anchor="end" fill="#000" >800</text>
<text x="144.6" y="273.35714285714283" font-family="Liberation Sans" font-size="33.5" text-anchor="end" fill="#000" >1200</text>
<text x="144.6" y="211.24285714285716" font-family="Liberation Sans" font-size="33.5" text-anchor="end" fill="#000" >1600</text>
<text x="144.6" y="149.12857142857146" font-family="Liberation Sans" font-size="33.5" text-anchor="end" fill="#000" >2000</text>
<text x="144.6" y="87.0142857142857" font-family="Liberation Sans" font-size="33.5" text-anchor="end" fill="#000" >2400</text>
<text x="144.6" y="24.9" font-family="Liberation Sans" font-size="33.5" text-anchor="end" fill="#000" >2800</text>
<text x="161.5" y="483.6" font-family="Liberation Serif" font-size="35" text-anchor="middle" fill="#000" >Γ</text>
<text x="224.4" y="483.6" font-family="Liberation Sans" font-size="33.5" text-anchor="middle" fill="#000" >M</text>
<text x="259.9" y="483.6" font-family="Liberation Sans" font-size="33.5" text-anchor="middle" fill="#000" >K</text>
<text x="327.6" y="483.6" font-family="Liberation Serif" font-size="35" text-anchor="middle" fill="#000" >Γ</text>
<text x="375.9" y="483.6" font-family="Liberation Sans" font-size="33.5" text-anchor="middle" fill="#000" >A</text>
<text x="443.1" y="483.6" font-family="Liberation Sans" font-size="33.5" text-anchor="middle" fill="#000" >L</text>
<text x="472.9" y="483.6" font-family="Liberation Sans" font-size="33.5" text-anchor="middle" fill="#000" >H</text>
<text x="543" y="483.6" font-family="Liberation Sans" font-size="33.5" text-anchor="middle" fill="#000" >A</text>
<text x="610.2" y="483.6" font-family="Liberation Sans" font-size="33.5" text-anchor="middle" fill="#000" >L</text>
<text x="660.5" y="483.6" font-family="Liberation Sans" font-size="33.5" text-anchor="middle" fill="#000" >M</text>
<text x="696" y="483.6" font-family="Liberation Sans" font-size="33.5" text-anchor="middle" fill="#000" >K</text>
<text x="736.5" y="483.6" font-family="Liberation Sans" font-size="33.5" text-anchor="middle" fill="#000" >H</text>
<text transform="translate(37.4,231.5) rotate(-90)" font-family="Liberation Sans" font-size="37.5" text-anchor="middle">Frequency (cm<tspan font-size="25" dy="-17">-1</tspan><tspan dy="17">)</tspan></text>
<line x1="242.5" y1="584" x2="242.5" y2="1009" stroke="#F2A060" stroke-width="1.5" stroke-dasharray="1.9 2"/>
<line x1="288.6" y1="584" x2="288.6" y2="1009" stroke="#F2A060" stroke-width="1.5" stroke-dasharray="1.9 2"/>
<line x1="307.3" y1="584" x2="307.3" y2="1009" stroke="#F2A060" stroke-width="1.5" stroke-dasharray="1.9 2"/>
<line x1="420.6" y1="584" x2="420.6" y2="1009" stroke="#F2A060" stroke-width="1.5" stroke-dasharray="1.9 2"/>
<line x1="529.0" y1="584" x2="529.0" y2="1009" stroke="#F2A060" stroke-width="1.5" stroke-dasharray="1.9 2"/>
<line x1="564.3" y1="584" x2="564.3" y2="1009" stroke="#F2A060" stroke-width="1.5" stroke-dasharray="1.9 2"/>
<line x1="581.7" y1="584" x2="581.7" y2="1009" stroke="#F2A060" stroke-width="1.5" stroke-dasharray="1.9 2"/>
<line x1="626.4" y1="584" x2="626.4" y2="1009" stroke="#F2A060" stroke-width="1.5" stroke-dasharray="1.9 2"/>
<line x1="661.3" y1="584" x2="661.3" y2="1009" stroke="#F2A060" stroke-width="1.5" stroke-dasharray="1.9 2"/>
<line x1="702.6" y1="584" x2="702.6" y2="1009" stroke="#F2A060" stroke-width="1.5" stroke-dasharray="1.9 2"/>
<path d="M158.50,651.20 C162.88,651.25 178.55,651.30 184.80,651.50 C191.05,651.70 191.87,652.77 196.00,652.40 C200.13,652.03 205.57,649.97 209.60,649.30 C213.63,648.63 216.88,648.50 220.20,648.40 C223.52,648.30 226.92,648.40 229.50,648.70 C232.08,649.00 233.53,649.68 235.70,650.20 C237.87,650.72 238.68,651.58 242.50,651.80 C246.32,652.02 252.82,651.18 258.60,651.50 C264.38,651.82 272.20,653.18 277.20,653.70 C282.20,654.22 285.47,654.30 288.60,654.60 C291.73,654.90 292.88,655.55 296.00,655.50 C299.12,655.45 301.47,654.50 307.30,654.30 C313.13,654.10 322.88,654.72 331.00,654.30 C339.12,653.88 347.67,652.25 356.00,651.80 C364.33,651.35 370.23,651.60 381.00,651.60 C391.77,651.60 410.77,651.70 420.60,651.80 C430.43,651.90 432.60,652.07 440.00,652.20 C447.40,652.33 458.40,652.70 465.00,652.60 C471.60,652.50 475.43,651.20 479.60,651.60 C483.77,652.00 486.60,653.77 490.00,655.00 C493.40,656.23 497.00,657.78 500.00,659.00 C503.00,660.22 505.00,661.25 508.00,662.30 C511.00,663.35 514.50,664.35 518.00,665.30 C521.50,666.25 524.50,669.05 529.00,668.00 C533.50,666.95 540.33,661.20 545.00,659.00 C549.67,656.80 553.78,655.63 557.00,654.80 C560.22,653.97 560.20,654.25 564.30,654.00 C568.40,653.75 577.32,653.22 581.60,653.30 C585.88,653.38 586.93,653.63 590.00,654.50 C593.07,655.37 596.33,657.00 600.00,658.50 C603.67,660.00 607.58,661.92 612.00,663.50 C616.42,665.08 621.83,668.58 626.50,668.00 C631.17,667.42 636.08,662.00 640.00,660.00 C643.92,658.00 646.45,656.90 650.00,656.00 C653.55,655.10 652.53,654.83 661.30,654.60 C670.07,654.37 693.65,654.87 702.60,654.60 C711.55,654.33 711.43,653.53 715.00,653.00 C718.57,652.47 720.17,651.65 724.00,651.40 C727.83,651.15 735.67,651.48 738.00,651.50 M158.50,652.20 C163.08,652.23 179.33,651.95 186.00,652.40 C192.67,652.85 194.35,654.48 198.50,654.90 C202.65,655.32 206.77,655.00 210.90,654.90 C215.03,654.80 219.17,654.72 223.30,654.30 C227.43,653.88 232.50,652.72 235.70,652.40 C238.90,652.08 238.68,652.22 242.50,652.40 C246.32,652.58 252.82,652.98 258.60,653.50 C264.38,654.02 272.20,655.17 277.20,655.50 C282.20,655.83 285.47,655.18 288.60,655.50 C291.73,655.82 292.88,656.98 296.00,657.40 C299.12,657.82 298.30,658.00 307.30,658.00 C316.30,658.00 338.72,657.92 350.00,657.40 C361.28,656.88 363.23,655.73 375.00,654.90 C386.77,654.07 409.77,652.67 420.60,652.40 C431.43,652.13 432.60,653.07 440.00,653.30 C447.40,653.53 458.33,653.77 465.00,653.80 C471.67,653.83 475.50,652.97 480.00,653.50 C484.50,654.03 487.83,655.67 492.00,657.00 C496.17,658.33 500.67,660.08 505.00,661.50 C509.33,662.92 514.00,664.38 518.00,665.50 C522.00,666.62 524.50,668.87 529.00,668.20 C533.50,667.53 540.33,663.23 545.00,661.50 C549.67,659.77 553.78,658.47 557.00,657.80 C560.22,657.13 560.20,657.82 564.30,657.50 C568.40,657.18 577.32,655.98 581.60,655.90 C585.88,655.82 586.10,656.07 590.00,657.00 C593.90,657.93 598.92,659.63 605.00,661.50 C611.08,663.37 620.67,667.95 626.50,668.20 C632.33,668.45 636.08,664.37 640.00,663.00 C643.92,661.63 646.45,660.73 650.00,660.00 C653.55,659.27 652.53,658.83 661.30,658.60 C670.07,658.37 693.65,659.20 702.60,658.60 C711.55,658.00 711.43,656.07 715.00,655.00 C718.57,653.93 720.17,652.67 724.00,652.20 C727.83,651.73 735.67,652.20 738.00,652.20 M158.50,653.20 C162.88,653.48 178.13,654.00 184.80,654.90 C191.47,655.80 194.15,657.67 198.50,658.60 C202.85,659.53 206.77,660.18 210.90,660.50 C215.03,660.82 219.17,660.30 223.30,660.50 C227.43,660.70 232.50,661.40 235.70,661.70 C238.90,662.00 238.68,662.55 242.50,662.30 C246.32,662.05 253.85,660.45 258.60,660.20 C263.35,659.95 266.00,660.38 271.00,660.80 C276.00,661.22 283.43,662.23 288.60,662.70 C293.77,663.17 298.88,663.35 302.00,663.60 C305.12,663.85 302.00,664.52 307.30,664.20 C317.30,663.88 349.72,662.53 362.00,661.70 C374.28,660.87 371.23,660.33 381.00,659.20 C390.77,658.07 410.77,655.43 420.60,654.90 C430.43,654.37 431.77,655.32 440.00,656.00 C448.23,656.68 460.00,657.83 470.00,659.00 C480.00,660.17 490.17,661.48 500.00,663.00 C509.83,664.52 521.50,667.85 529.00,668.10 C536.50,668.35 539.12,665.65 545.00,664.50 C550.88,663.35 558.20,661.48 564.30,661.20 C570.40,660.92 575.65,662.33 581.60,662.80 C587.55,663.27 592.52,663.12 600.00,664.00 C607.48,664.88 619.83,668.43 626.50,668.10 C633.17,667.77 636.08,663.35 640.00,662.00 C643.92,660.65 646.45,660.47 650.00,660.00 C653.55,659.53 652.53,659.33 661.30,659.20 C670.07,659.07 693.65,659.73 702.60,659.20 C711.55,658.67 711.43,657.03 715.00,656.00 C718.57,654.97 720.17,653.53 724.00,653.00 C727.83,652.47 735.67,652.83 738.00,652.80 M158.50,680.50 C161.02,680.07 169.02,678.85 173.60,677.90 C178.18,676.95 181.85,675.83 186.00,674.80 C190.15,673.77 194.35,672.53 198.50,671.70 C202.65,670.87 206.77,670.63 210.90,669.80 C215.03,668.97 219.17,667.73 223.30,666.70 C227.43,665.67 232.50,664.28 235.70,663.60 C238.90,662.92 238.68,662.87 242.50,662.60 C246.32,662.33 250.92,661.85 258.60,662.00 C266.28,662.15 280.48,663.00 288.60,663.50 C296.72,664.00 298.73,664.92 307.30,665.00 C315.87,665.08 329.55,664.75 340.00,664.00 C350.45,663.25 360.83,661.42 370.00,660.50 C379.17,659.58 386.57,658.92 395.00,658.50 C403.43,658.08 413.10,657.83 420.60,658.00 C428.10,658.17 430.10,658.67 440.00,659.50 C449.90,660.33 465.17,661.55 480.00,663.00 C494.83,664.45 518.17,667.62 529.00,668.20 C539.83,668.78 539.12,667.15 545.00,666.50 C550.88,665.85 558.20,664.42 564.30,664.30 C570.40,664.18 575.65,665.43 581.60,665.80 C587.55,666.17 592.52,666.10 600.00,666.50 C607.48,666.90 619.00,668.45 626.50,668.20 C634.00,667.95 639.20,665.72 645.00,665.00 C650.80,664.28 651.70,664.08 661.30,663.90 C670.90,663.72 693.65,664.08 702.60,663.90 C711.55,663.72 709.10,663.15 715.00,662.80 C720.90,662.45 734.17,661.97 738.00,661.80 M158.50,655.50 C161.02,655.92 168.80,656.75 173.60,658.00 C178.40,659.25 183.15,661.23 187.30,663.00 C191.45,664.77 194.57,666.95 198.50,668.60 C202.43,670.25 207.28,671.67 210.90,672.90 C214.52,674.13 214.93,675.17 220.20,676.00 C225.47,676.83 236.10,677.80 242.50,677.90 C248.90,678.00 253.85,677.12 258.60,676.60 C263.35,676.08 266.85,675.62 271.00,674.80 C275.15,673.98 280.57,672.43 283.50,671.70 C286.43,670.97 286.52,671.13 288.60,670.40 C290.68,669.67 293.77,668.13 296.00,667.30 C298.23,666.47 300.12,665.82 302.00,665.40 C303.88,664.98 302.00,665.03 307.30,664.80 C314.47,664.57 334.22,664.80 345.00,664.00 C355.78,663.20 366.05,660.70 372.00,660.00 C377.95,659.30 377.80,658.90 380.70,659.80 C383.60,660.70 386.30,663.32 389.40,665.40 C392.50,667.48 395.58,670.12 399.30,672.30 C403.02,674.48 408.15,677.27 411.70,678.50 C415.25,679.73 417.50,679.92 420.60,679.70 C423.70,679.48 427.07,678.82 430.30,677.20 C433.53,675.58 436.75,672.33 440.00,670.00 C443.25,667.67 446.47,665.12 449.80,663.20 C453.13,661.28 455.80,659.45 460.00,658.50 C464.20,657.55 470.00,657.42 475.00,657.50 C480.00,657.58 485.00,658.17 490.00,659.00 C495.00,659.83 498.50,660.95 505.00,662.50 C511.50,664.05 522.33,667.38 529.00,668.30 C535.67,669.22 539.12,668.17 545.00,668.00 C550.88,667.83 558.20,667.10 564.30,667.30 C570.40,667.50 575.65,668.92 581.60,669.20 C587.55,669.48 592.52,669.15 600.00,669.00 C607.48,668.85 619.00,668.47 626.50,668.30 C634.00,668.13 639.20,668.07 645.00,668.00 C650.80,667.93 651.70,667.92 661.30,667.90 C670.90,667.88 693.65,668.38 702.60,667.90 C711.55,667.42 709.10,665.88 715.00,665.00 C720.90,664.12 734.17,663.00 738.00,662.60 M158.50,657.30 C161.53,657.52 171.08,657.87 176.70,658.60 C182.32,659.33 188.05,660.35 192.20,661.70 C196.35,663.05 198.48,664.73 201.60,666.70 C204.72,668.67 207.28,671.75 210.90,673.50 C214.52,675.25 218.03,676.37 223.30,677.20 C228.57,678.03 235.58,678.50 242.50,678.50 C249.42,678.50 257.12,677.42 264.80,677.20 C272.48,676.98 282.40,677.30 288.60,677.20 C294.80,677.10 298.88,676.90 302.00,676.60 C305.12,676.30 302.00,675.50 307.30,675.40 C313.63,675.30 329.55,675.57 340.00,676.00 C350.45,676.43 360.17,677.50 370.00,678.00 C379.83,678.50 390.57,678.72 399.00,679.00 C407.43,679.28 413.77,679.87 420.60,679.70 C427.43,679.53 431.77,678.78 440.00,678.00 C448.23,677.22 460.00,676.17 470.00,675.00 C480.00,673.83 490.17,672.10 500.00,671.00 C509.83,669.90 521.50,668.07 529.00,668.40 C536.50,668.73 539.12,672.05 545.00,673.00 C550.88,673.95 558.20,673.78 564.30,674.10 C570.40,674.42 575.65,675.17 581.60,674.90 C587.55,674.63 592.52,673.58 600.00,672.50 C607.48,671.42 619.00,668.48 626.50,668.40 C634.00,668.32 639.20,671.10 645.00,672.00 C650.80,672.90 651.70,673.50 661.30,673.80 C670.90,674.10 693.65,673.43 702.60,673.80 C711.55,674.17 709.10,675.32 715.00,676.00 C720.90,676.68 734.17,677.58 738.00,677.90 M158.50,680.00 C160.50,679.65 166.95,679.40 170.50,677.90 C174.05,676.40 177.00,673.08 179.80,671.00 C182.60,668.92 184.72,667.47 187.30,665.40 C189.88,663.33 192.40,660.25 195.30,658.60 C198.20,656.95 201.07,656.02 204.70,655.50 C208.33,654.98 212.97,655.08 217.10,655.50 C221.23,655.92 225.27,656.87 229.50,658.00 C233.73,659.13 237.65,661.37 242.50,662.30 C247.35,663.23 253.85,662.98 258.60,663.60 C263.35,664.22 266.85,665.07 271.00,666.00 C275.15,666.93 280.57,668.47 283.50,669.20 C286.43,669.93 286.52,669.88 288.60,670.40 C290.68,670.92 292.88,671.78 296.00,672.30 C299.12,672.82 299.13,673.38 307.30,673.50 C315.47,673.62 333.80,673.30 345.00,673.00 C356.20,672.70 367.33,671.62 374.50,671.70 C381.67,671.78 383.87,672.68 388.00,673.50 C392.13,674.32 393.87,675.57 399.30,676.60 C404.73,677.63 414.53,679.87 420.60,679.70 C426.67,679.53 430.80,676.88 435.70,675.60 C440.60,674.32 445.17,672.97 450.00,672.00 C454.83,671.03 459.53,670.05 464.70,669.80 C469.87,669.55 475.48,670.02 481.00,670.50 C486.52,670.98 492.63,672.70 497.80,672.70 C502.97,672.70 506.80,671.20 512.00,670.50 C517.20,669.80 523.50,668.42 529.00,668.50 C534.50,668.58 539.12,670.70 545.00,671.00 C550.88,671.30 558.20,670.15 564.30,670.30 C570.40,670.45 575.65,671.78 581.60,671.90 C587.55,672.02 592.52,671.57 600.00,671.00 C607.48,670.43 619.00,668.42 626.50,668.50 C634.00,668.58 639.20,670.72 645.00,671.50 C650.80,672.28 651.70,672.92 661.30,673.20 C670.90,673.48 693.65,672.82 702.60,673.20 C711.55,673.58 709.10,674.80 715.00,675.50 C720.90,676.20 734.17,677.08 738.00,677.40 M158.50,681.00 C163.08,680.78 179.33,680.63 186.00,679.70 C192.67,678.77 194.35,676.22 198.50,675.40 C202.65,674.58 206.77,674.50 210.90,674.80 C215.03,675.10 218.03,676.53 223.30,677.20 C228.57,677.87 234.72,678.58 242.50,678.80 C250.28,679.02 262.32,678.63 270.00,678.50 C277.68,678.37 282.38,678.25 288.60,678.00 C294.82,677.75 297.07,676.83 307.30,677.00 C317.53,677.17 334.55,678.50 350.00,679.00 C365.45,679.50 388.23,679.80 400.00,680.00 C411.77,680.20 412.27,680.37 420.60,680.20 C428.93,680.03 440.10,679.70 450.00,679.00 C459.90,678.30 470.83,677.33 480.00,676.00 C489.17,674.67 496.83,672.23 505.00,671.00 C513.17,669.77 522.33,668.02 529.00,668.60 C535.67,669.18 539.12,673.20 545.00,674.50 C550.88,675.80 558.20,675.88 564.30,676.40 C570.40,676.92 575.65,678.00 581.60,677.60 C587.55,677.20 594.93,675.10 600.00,674.00 C605.07,672.90 607.58,671.90 612.00,671.00 C616.42,670.10 621.83,668.27 626.50,668.60 C631.17,668.93 636.08,671.85 640.00,673.00 C643.92,674.15 646.45,674.85 650.00,675.50 C653.55,676.15 652.53,676.67 661.30,676.90 C670.07,677.13 693.65,676.75 702.60,676.90 C711.55,677.05 709.10,677.52 715.00,677.80 C720.90,678.08 734.17,678.47 738.00,678.60 M158.50,872.90 C159.98,872.58 163.85,872.25 167.40,871.00 C170.95,869.75 175.67,867.47 179.80,865.40 C183.93,863.33 188.57,860.77 192.20,858.60 C195.83,856.43 198.48,853.85 201.60,852.40 C204.72,850.95 207.80,850.27 210.90,849.90 C214.00,849.53 217.10,849.57 220.20,850.20 C223.30,850.83 225.78,851.98 229.50,853.70 C233.22,855.42 236.20,860.20 242.50,860.50 C248.80,860.80 260.47,856.70 267.30,855.50 C274.13,854.30 279.95,853.67 283.50,853.30 C287.05,852.93 286.52,853.03 288.60,853.30 C290.68,853.57 292.88,854.32 296.00,854.90 C299.12,855.48 303.30,856.28 307.30,856.80 C311.30,857.32 315.38,858.30 320.00,858.00 C324.62,857.70 328.93,856.23 335.00,855.00 C341.07,853.77 350.05,851.33 356.40,850.60 C362.75,849.87 367.78,849.45 373.10,850.60 C378.42,851.75 383.23,854.72 388.30,857.50 C393.37,860.28 399.05,865.08 403.50,867.30 C407.95,869.52 412.15,869.98 415.00,870.80 C417.85,871.62 417.15,872.37 420.60,872.20 C424.05,872.03 430.70,871.72 435.70,869.80 C440.70,867.88 445.77,863.87 450.60,860.70 C455.43,857.53 459.87,852.25 464.70,850.80 C469.53,849.35 474.78,850.77 479.60,852.00 C484.42,853.23 489.20,856.55 493.60,858.20 C498.00,859.85 500.10,861.05 506.00,861.90 C511.90,862.75 520.40,863.67 529.00,863.30 C537.60,862.93 552.07,860.98 557.60,859.70 C562.20,858.42 561.08,856.33 562.20,855.60 C563.32,854.87 562.50,855.48 564.30,855.30 C566.10,855.12 570.12,854.83 573.00,854.50 C575.88,854.17 578.22,852.68 581.60,853.30 C584.98,853.92 590.08,856.82 593.30,858.20 C596.52,859.58 595.37,860.75 600.90,861.60 C606.43,862.45 619.15,863.90 626.50,863.30 C633.85,862.70 639.20,859.30 645.00,858.00 C650.80,856.70 651.70,855.92 661.30,855.50 C670.90,855.08 692.82,855.17 702.60,855.50 C712.38,855.83 714.10,856.67 720.00,857.50 C725.90,858.33 735.00,860.00 738.00,860.50 M158.50,873.40 C161.02,873.42 169.73,873.90 173.60,873.50 C177.47,873.10 179.12,872.65 181.70,871.00 C184.28,869.35 186.83,865.67 189.10,863.60 C191.37,861.53 192.70,859.63 195.30,858.60 C197.90,857.57 201.58,857.50 204.70,857.40 C207.82,857.30 210.90,857.58 214.00,858.00 C217.10,858.42 218.55,859.32 223.30,859.90 C228.05,860.48 237.65,860.98 242.50,861.50 C247.35,862.02 247.65,863.07 252.40,863.00 C257.15,862.93 264.97,861.62 271.00,861.10 C277.03,860.58 283.43,860.22 288.60,859.90 C293.77,859.58 298.88,859.42 302.00,859.20 C305.12,858.98 304.30,858.72 307.30,858.60 C310.30,858.48 314.55,859.02 320.00,858.50 C325.45,857.98 333.93,856.62 340.00,855.50 C346.07,854.38 350.88,852.30 356.40,851.80 C361.92,851.30 367.78,851.43 373.10,852.50 C378.42,853.57 383.23,855.48 388.30,858.20 C393.37,860.92 398.12,865.95 403.50,868.80 C408.88,871.65 414.95,874.30 420.60,875.30 C426.25,876.30 432.40,876.55 437.40,874.80 C442.40,873.05 446.05,867.70 450.60,864.80 C455.15,861.90 459.87,858.85 464.70,857.40 C469.53,855.95 474.78,855.58 479.60,856.10 C484.42,856.62 489.20,859.18 493.60,860.50 C498.00,861.82 500.10,863.48 506.00,864.00 C511.90,864.52 521.67,864.02 529.00,863.60 C536.33,863.18 544.47,862.55 550.00,861.50 C555.53,860.45 559.82,858.05 562.20,857.30 C564.30,856.55 563.00,856.85 564.30,857.00 C565.60,857.15 567.72,858.32 570.00,858.20 C572.28,858.08 576.07,856.37 578.00,856.30 C579.93,856.23 579.05,857.35 581.60,857.80 C584.15,858.25 585.82,858.03 593.30,859.00 C600.78,859.97 617.88,863.27 626.50,863.60 C635.12,863.93 639.20,861.72 645.00,861.00 C650.80,860.28 651.70,859.58 661.30,859.30 C670.90,859.02 692.82,859.18 702.60,859.30 C712.38,859.42 714.10,859.68 720.00,860.00 C725.90,860.32 735.00,861.00 738.00,861.20 M158.50,872.90 C162.37,872.85 175.03,873.12 181.70,872.60 C188.37,872.08 192.60,870.68 198.50,869.80 C204.40,868.92 211.93,867.62 217.10,867.30 C222.27,866.98 225.27,867.33 229.50,867.90 C233.73,868.47 236.62,870.48 242.50,870.70 C248.38,870.92 257.12,869.55 264.80,869.20 C272.48,868.85 281.52,868.77 288.60,868.60 C295.68,868.43 302.07,868.22 307.30,868.20 C312.53,868.18 314.05,868.52 320.00,868.50 C325.95,868.48 336.67,867.78 343.00,868.10 C349.33,868.42 351.72,869.40 358.00,870.40 C364.28,871.40 374.37,873.22 380.70,874.10 C387.03,874.98 389.35,875.43 396.00,875.70 C402.65,875.97 413.30,875.72 420.60,875.70 C427.90,875.68 432.45,876.03 439.80,875.60 C447.15,875.17 456.42,874.35 464.70,873.10 C472.98,871.85 482.62,869.48 489.50,868.10 C496.38,866.72 499.42,865.55 506.00,864.80 C512.58,864.05 520.83,864.15 529.00,863.60 C537.17,863.05 549.12,862.08 555.00,861.50 C560.88,860.92 559.87,860.33 564.30,860.10 C568.73,859.87 576.77,860.10 581.60,860.10 C586.43,860.10 588.90,859.78 593.30,860.10 C597.70,860.42 602.47,861.47 608.00,862.00 C613.53,862.53 620.33,862.63 626.50,863.30 C632.67,863.97 639.20,865.28 645.00,866.00 C650.80,866.72 651.70,867.33 661.30,867.60 C670.90,867.87 692.82,867.28 702.60,867.60 C712.38,867.92 714.10,868.90 720.00,869.50 C725.90,870.10 735.00,870.92 738.00,871.20 M158.50,876.00 C162.05,876.00 173.13,876.20 179.80,876.00 C186.47,875.80 192.28,875.22 198.50,874.80 C204.72,874.38 211.93,873.92 217.10,873.50 C222.27,873.08 225.27,872.68 229.50,872.30 C233.73,871.92 235.58,871.42 242.50,871.20 C249.42,870.98 263.32,871.03 271.00,871.00 C278.68,870.97 282.55,871.03 288.60,871.00 C294.65,870.97 302.07,870.88 307.30,870.80 C312.53,870.72 314.72,869.82 320.00,870.50 C325.28,871.18 332.67,873.78 339.00,874.90 C345.33,876.02 351.05,876.57 358.00,877.20 C364.95,877.83 374.37,878.32 380.70,878.70 C387.03,879.08 391.45,878.95 396.00,879.50 C400.55,880.05 403.90,881.00 408.00,882.00 C412.10,883.00 415.98,885.88 420.60,885.50 C425.22,885.12 430.80,881.20 435.70,879.70 C440.60,878.20 444.28,877.45 450.00,876.50 C455.72,875.55 462.03,875.32 470.00,874.00 C477.97,872.68 490.30,870.02 497.80,868.60 C505.30,867.18 509.80,866.33 515.00,865.50 C520.20,864.67 524.17,863.60 529.00,863.60 C533.83,863.60 539.67,864.77 544.00,865.50 C548.33,866.23 551.62,867.50 555.00,868.00 C558.38,868.50 559.87,868.17 564.30,868.50 C568.73,868.83 576.77,870.20 581.60,870.00 C586.43,869.80 588.90,868.22 593.30,867.30 C597.70,866.38 602.47,865.17 608.00,864.50 C613.53,863.83 620.33,862.55 626.50,863.30 C632.67,864.05 639.20,867.65 645.00,869.00 C650.80,870.35 651.70,871.00 661.30,871.40 C670.90,871.80 692.82,871.37 702.60,871.40 C712.38,871.43 714.10,871.53 720.00,871.60 C725.90,871.67 735.00,871.77 738.00,871.80 M158.50,885.90 C161.02,885.50 169.02,884.73 173.60,883.50 C178.18,882.27 180.82,879.65 186.00,878.50 C191.18,877.35 199.52,876.92 204.70,876.60 C209.88,876.28 212.97,875.98 217.10,876.60 C221.23,877.22 225.27,878.73 229.50,880.30 C233.73,881.87 236.62,886.10 242.50,886.00 C248.38,885.90 257.12,881.47 264.80,879.70 C272.48,877.93 282.40,876.63 288.60,875.40 C294.80,874.17 298.88,872.92 302.00,872.30 C305.12,871.68 304.30,871.90 307.30,871.70 C310.30,871.50 316.22,870.97 320.00,871.10 C323.78,871.23 325.83,871.77 330.00,872.50 C334.17,873.23 340.00,874.78 345.00,875.50 C350.00,876.22 354.17,876.58 360.00,876.80 C365.83,877.02 373.33,876.87 380.00,876.80 C386.67,876.73 393.23,876.53 400.00,876.40 C406.77,876.27 414.65,876.00 420.60,876.00 C426.55,876.00 430.43,875.63 435.70,876.40 C440.97,877.17 447.37,879.15 452.20,880.60 C457.03,882.05 460.13,883.87 464.70,885.10 C469.27,886.33 474.08,887.52 479.60,888.00 C485.12,888.48 492.02,888.27 497.80,888.00 C503.58,887.73 509.10,886.75 514.30,886.40 C519.50,886.05 525.32,886.55 529.00,885.90 C532.68,885.25 533.27,884.72 536.40,882.50 C539.53,880.28 543.15,874.37 547.80,872.60 C552.45,870.83 559.88,871.77 564.30,871.90 C568.72,872.03 571.42,872.77 574.30,873.40 C577.18,874.03 577.17,875.27 581.60,875.70 C586.03,876.13 595.78,875.12 600.90,876.00 C606.02,876.88 608.03,879.42 612.30,881.00 C616.57,882.58 621.05,886.33 626.50,885.50 C631.95,884.67 639.20,878.22 645.00,876.00 C650.80,873.78 651.70,872.83 661.30,872.20 C670.90,871.57 692.82,871.07 702.60,872.20 C712.38,873.33 714.10,876.67 720.00,879.00 C725.90,881.33 735.00,885.00 738.00,886.20 M158.50,886.40 C161.02,886.12 169.02,885.40 173.60,884.70 C178.18,884.00 181.85,882.52 186.00,882.20 C190.15,881.88 194.35,882.18 198.50,882.80 C202.65,883.42 207.28,885.07 210.90,885.90 C214.52,886.73 216.58,887.48 220.20,887.80 C223.82,888.12 228.88,888.05 232.60,887.80 C236.32,887.55 238.77,886.35 242.50,886.30 C246.23,886.25 250.42,888.05 255.00,887.50 C259.58,886.95 264.40,884.92 270.00,883.00 C275.60,881.08 284.27,876.75 288.60,876.00 C292.93,875.25 292.88,876.80 296.00,878.50 C299.12,880.20 303.30,884.90 307.30,886.20 C311.30,887.50 317.13,886.42 320.00,886.30 C322.87,886.18 321.08,887.02 324.50,885.50 C327.92,883.98 334.92,878.47 340.50,877.20 C346.08,875.93 350.03,877.02 358.00,877.90 C365.97,878.78 380.72,881.60 388.30,882.50 C395.88,883.40 398.12,882.80 403.50,883.30 C408.88,883.80 414.52,886.05 420.60,885.50 C426.68,884.95 431.77,882.08 440.00,880.00 C448.23,877.92 460.37,874.90 470.00,873.00 C479.63,871.10 491.10,868.03 497.80,868.60 C504.50,869.17 505.67,873.58 510.20,876.40 C514.73,879.22 521.87,883.92 525.00,885.50 C528.13,887.08 525.20,885.90 529.00,885.90 C532.80,885.90 542.52,885.57 547.80,885.50 C553.08,885.43 557.95,885.50 560.70,885.50 C563.45,885.50 562.67,886.25 564.30,885.50 C565.93,884.75 568.22,882.42 570.50,881.00 C572.78,879.58 576.15,877.85 578.00,877.00 C579.85,876.15 578.00,875.93 581.60,875.90 C585.42,875.87 595.78,875.90 600.90,876.80 C606.02,877.70 608.03,879.78 612.30,881.30 C616.57,882.82 621.05,885.02 626.50,885.90 C631.95,886.78 639.20,886.48 645.00,886.60 C650.80,886.72 651.70,886.60 661.30,886.60 C670.90,886.60 689.82,886.60 702.60,886.60 C715.38,886.60 732.10,886.60 738.00,886.60 M158.50,876.30 C161.02,876.35 169.52,876.03 173.60,876.60 C177.68,877.17 179.90,878.03 183.00,879.70 C186.10,881.37 188.58,884.22 192.20,886.60 C195.82,888.98 200.55,892.25 204.70,894.00 C208.85,895.75 213.48,896.58 217.10,897.10 C220.72,897.62 223.30,898.03 226.40,897.10 C229.50,896.17 233.02,893.25 235.70,891.50 C238.38,889.75 237.65,886.80 242.50,886.60 C247.35,886.40 259.02,889.07 264.80,890.30 C270.58,891.53 273.23,893.28 277.20,894.00 C281.17,894.72 284.47,894.60 288.60,894.60 C292.73,894.60 298.88,894.20 302.00,894.00 C305.12,893.80 304.30,894.18 307.30,893.40 C310.30,892.62 314.47,889.17 320.00,889.30 C325.53,889.43 334.17,893.32 340.50,894.20 C346.83,895.08 352.57,895.28 358.00,894.60 C363.43,893.92 368.05,891.98 373.10,890.10 C378.15,888.22 383.23,885.20 388.30,883.30 C393.37,881.40 398.12,879.87 403.50,878.70 C408.88,877.53 414.52,875.42 420.60,876.30 C426.68,877.18 431.77,882.22 440.00,884.00 C448.23,885.78 460.00,886.42 470.00,887.00 C480.00,887.58 490.17,887.63 500.00,887.50 C509.83,887.37 522.90,886.12 529.00,886.20 C535.10,886.28 534.07,887.12 536.60,888.00 C539.13,888.88 540.45,890.52 544.20,891.50 C547.95,892.48 555.75,893.50 559.10,893.90 C562.45,894.30 562.40,893.85 564.30,893.90 C566.20,893.95 567.62,894.08 570.50,894.20 C573.38,894.32 577.80,895.03 581.60,894.60 C585.40,894.17 588.82,892.60 593.30,891.60 C597.78,890.60 602.97,889.50 608.50,888.60 C614.03,887.70 620.42,885.80 626.50,886.20 C632.58,886.60 639.20,889.80 645.00,891.00 C650.80,892.20 651.70,893.00 661.30,893.40 C670.90,893.80 692.82,893.97 702.60,893.40 C712.38,892.83 714.10,891.10 720.00,890.00 C725.90,888.90 735.00,887.33 738.00,886.80 M158.50,885.50 C165.42,885.52 186.00,885.52 200.00,885.60 C214.00,885.68 232.50,885.90 242.50,886.00 C252.50,886.10 252.32,886.17 260.00,886.20 C267.68,886.23 280.72,886.23 288.60,886.20 C296.48,886.17 302.07,885.78 307.30,886.00 C312.53,886.22 312.88,887.50 320.00,887.50 C327.12,887.50 340.00,886.50 350.00,886.00 C360.00,885.50 368.23,884.62 380.00,884.50 C391.77,884.38 408.83,886.23 420.60,885.30 C432.37,884.37 439.12,881.62 450.60,878.90 C462.08,876.18 476.43,871.48 489.50,869.00 C502.57,866.52 518.92,864.50 529.00,864.00 C539.08,863.50 544.12,865.17 550.00,866.00 C555.88,866.83 559.03,868.25 564.30,869.00 C569.57,869.75 575.65,870.67 581.60,870.50 C587.55,870.33 592.52,869.15 600.00,868.00 C607.48,866.85 622.08,864.33 626.50,863.60 M158.50,978.70 C159.58,978.42 162.80,978.45 165.00,977.00 C167.20,975.55 169.20,972.98 171.70,970.00 C174.20,967.02 177.93,961.75 180.00,959.10 C182.07,956.45 182.02,956.03 184.10,954.10 C186.18,952.17 189.72,949.23 192.50,947.50 C195.28,945.77 197.33,944.82 200.80,943.70 C204.27,942.58 209.13,941.48 213.30,940.80 C217.47,940.12 220.93,939.95 225.80,939.60 C230.67,939.25 236.67,938.77 242.50,938.70 C248.33,938.63 254.28,939.40 260.80,939.20 C267.32,939.00 276.97,937.78 281.60,937.50 C286.23,937.22 285.82,937.78 288.60,937.50 C291.38,937.22 295.18,936.12 298.30,935.80 C301.42,935.48 303.13,935.87 307.30,935.60 C311.47,935.33 319.52,934.27 323.30,934.20 C327.08,934.13 325.50,934.67 330.00,935.20 C334.50,935.73 343.12,936.77 350.30,937.40 C357.48,938.03 366.77,937.85 373.10,939.00 C379.43,940.15 383.25,940.63 388.30,944.30 C393.35,947.97 398.02,955.32 403.40,961.00 C408.78,966.68 414.27,977.65 420.60,978.40 C426.93,979.15 435.42,969.67 441.40,965.50 C447.38,961.33 451.45,957.07 456.50,953.40 C461.55,949.73 466.63,946.42 471.70,943.50 C476.77,940.58 481.83,937.92 486.90,935.90 C491.97,933.88 497.05,932.67 502.10,931.40 C507.15,930.13 512.72,928.77 517.20,928.30 C521.68,927.83 524.73,928.45 529.00,928.60 C533.27,928.75 537.98,928.22 542.80,929.20 C547.62,930.18 554.32,933.32 557.90,934.50 C561.48,935.68 561.78,935.97 564.30,936.30 C566.82,936.63 570.12,936.38 573.00,936.50 C575.88,936.62 578.77,937.42 581.60,937.00 C584.43,936.58 586.37,935.02 590.00,934.00 C593.63,932.98 598.63,931.83 603.40,930.90 C608.17,929.97 614.75,928.82 618.60,928.40 C622.45,927.98 622.70,928.23 626.50,928.40 C630.30,928.57 636.40,928.60 641.40,929.40 C646.40,930.20 653.18,932.13 656.50,933.20 C659.82,934.27 656.50,935.37 661.30,935.80 C668.98,936.23 692.82,935.60 702.60,935.80 C712.38,936.00 714.10,936.58 720.00,937.00 C725.90,937.42 735.00,938.08 738.00,938.30 M158.50,1012.50 C160.70,1009.43 167.70,999.52 171.70,994.10 C175.70,988.68 179.03,984.58 182.50,980.00 C185.97,975.42 189.45,970.22 192.50,966.60 C195.55,962.98 198.03,960.80 200.80,958.30 C203.57,955.80 205.90,953.95 209.10,951.60 C212.30,949.25 216.52,946.00 220.00,944.20 C223.48,942.40 226.25,941.67 230.00,940.80 C233.75,939.93 237.33,939.18 242.50,939.00 C247.67,938.82 253.32,939.57 261.00,939.70 C268.68,939.83 280.88,940.18 288.60,939.80 C296.32,939.42 301.52,938.03 307.30,937.40 C313.08,936.77 319.52,936.10 323.30,936.00 C327.08,935.90 324.23,935.67 330.00,936.80 C335.77,937.93 350.72,940.17 357.90,942.80 C365.08,945.43 366.77,948.30 373.10,952.60 C379.43,956.90 387.98,964.30 395.90,968.60 C403.82,972.90 414.08,978.50 420.60,978.40 C427.12,978.30 430.27,971.90 435.00,968.00 C439.73,964.10 444.15,958.95 449.00,955.00 C453.85,951.05 459.05,946.85 464.10,944.30 C469.15,941.75 474.23,941.47 479.30,939.70 C484.37,937.93 489.38,935.32 494.50,933.70 C499.62,932.08 504.25,930.75 510.00,930.00 C515.75,929.25 523.17,929.20 529.00,929.20 C534.83,929.20 540.18,929.00 545.00,930.00 C549.82,931.00 554.68,934.03 557.90,935.20 C561.12,936.37 561.78,936.53 564.30,937.00 C566.82,937.47 570.12,937.58 573.00,938.00 C575.88,938.42 578.77,940.00 581.60,939.50 C584.43,939.00 586.37,936.38 590.00,935.00 C593.63,933.62 597.32,932.23 603.40,931.20 C609.48,930.17 619.57,928.92 626.50,928.80 C633.43,928.68 639.20,929.20 645.00,930.50 C650.80,931.80 651.70,935.58 661.30,936.60 C670.90,937.62 692.82,936.43 702.60,936.60 C712.38,936.77 714.10,937.23 720.00,937.60 C725.90,937.97 735.00,938.60 738.00,938.80 M158.50,1012.50 C160.28,1010.68 165.62,1005.35 169.20,1001.60 C172.78,997.85 176.53,993.88 180.00,990.00 C183.47,986.12 186.95,981.63 190.00,978.30 C193.05,974.97 195.53,972.63 198.30,970.00 C201.07,967.37 203.42,965.15 206.60,962.50 C209.78,959.85 213.52,956.75 217.40,954.10 C221.28,951.45 226.42,948.67 229.90,946.60 C233.38,944.53 236.20,942.90 238.30,941.70 C240.40,940.50 238.30,939.68 242.50,939.40 C247.78,939.12 262.32,939.87 270.00,940.00 C277.68,940.13 282.38,940.53 288.60,940.20 C294.82,939.87 300.40,938.43 307.30,938.00 C314.20,937.57 322.88,936.93 330.00,937.60 C337.12,938.27 344.17,939.93 350.00,942.00 C355.83,944.07 360.00,946.67 365.00,950.00 C370.00,953.33 375.00,957.00 380.00,962.00 C385.00,967.00 390.33,974.00 395.00,980.00 C399.67,986.00 403.73,992.58 408.00,998.00 C412.27,1003.42 415.03,1013.62 420.60,1012.50 C426.17,1011.38 435.42,997.37 441.40,991.30 C447.38,985.23 451.45,980.98 456.50,976.10 C461.55,971.22 466.63,966.68 471.70,962.00 C476.77,957.32 482.18,952.17 486.90,948.00 C491.62,943.83 495.32,939.92 500.00,937.00 C504.68,934.08 510.17,931.83 515.00,930.50 C519.83,929.17 524.00,928.92 529.00,929.00 C534.00,929.08 539.12,929.58 545.00,931.00 C550.88,932.42 558.20,936.03 564.30,937.50 C570.40,938.97 574.82,940.80 581.60,939.80 C588.38,938.80 597.52,933.30 605.00,931.50 C612.48,929.70 619.83,929.00 626.50,929.00 C633.17,929.00 639.20,930.13 645.00,931.50 C650.80,932.87 651.70,936.25 661.30,937.20 C670.90,938.15 689.82,936.87 702.60,937.20 C715.38,937.53 732.10,938.87 738.00,939.20 M158.50,978.70 C160.70,978.08 166.73,976.18 171.70,975.00 C176.67,973.82 182.07,972.85 188.30,971.60 C194.53,970.35 200.07,968.12 209.10,967.50 C218.13,966.88 232.77,968.05 242.50,967.90 C252.23,967.75 260.98,967.23 267.50,966.60 C274.02,965.97 278.08,964.52 281.60,964.10 C285.12,963.68 284.32,964.10 288.60,964.10 C292.88,964.10 300.40,964.20 307.30,964.10 C314.20,964.00 319.03,963.27 330.00,963.50 C340.97,963.73 362.12,963.90 373.10,965.50 C384.08,967.10 387.98,970.95 395.90,973.10 C403.82,975.25 413.02,978.02 420.60,978.40 C428.18,978.78 434.15,977.55 441.40,975.40 C448.65,973.25 457.78,967.65 464.10,965.50 C470.42,963.35 474.23,962.75 479.30,962.50 C484.37,962.25 486.22,963.37 494.50,964.00 C502.78,964.63 519.70,966.12 529.00,966.30 C538.30,966.48 544.42,965.43 550.30,965.10 C556.18,964.77 559.08,964.30 564.30,964.30 C569.52,964.30 571.23,964.72 581.60,965.10 C591.97,965.48 613.22,966.80 626.50,966.60 C639.78,966.40 648.62,964.35 661.30,963.90 C673.98,963.45 692.82,963.55 702.60,963.90 C712.38,964.25 714.10,965.30 720.00,966.00 C725.90,966.70 735.00,967.75 738.00,968.10 M158.50,983.70 C162.08,983.92 173.65,985.77 180.00,985.00 C186.35,984.23 191.05,980.92 196.60,979.10 C202.15,977.28 207.73,975.62 213.30,974.10 C218.87,972.58 225.13,971.02 230.00,970.00 C234.87,968.98 236.25,968.33 242.50,968.00 C248.75,967.67 259.82,968.02 267.50,968.00 C275.18,967.98 281.97,967.92 288.60,967.90 C295.23,967.88 300.40,967.95 307.30,967.90 C314.20,967.85 320.30,966.87 330.00,967.60 C339.70,968.33 355.78,970.62 365.50,972.30 C375.22,973.98 381.98,976.18 388.30,977.70 C394.62,979.22 398.02,980.40 403.40,981.40 C408.78,982.40 411.75,984.83 420.60,983.70 C429.45,982.57 445.45,976.88 456.50,974.60 C467.55,972.32 474.82,971.33 486.90,970.00 C498.98,968.67 518.43,966.78 529.00,966.60 C539.57,966.42 544.42,968.27 550.30,968.90 C556.18,969.53 559.08,970.15 564.30,970.40 C569.52,970.65 571.23,971.03 581.60,970.40 C591.97,969.77 613.22,966.73 626.50,966.60 C639.78,966.47 648.62,969.10 661.30,969.60 C673.98,970.10 693.65,969.03 702.60,969.60 C711.55,970.17 709.10,971.48 715.00,973.00 C720.90,974.52 734.17,977.75 738.00,978.70 M158.50,978.90 C162.08,978.80 172.25,978.40 180.00,978.30 C187.75,978.20 196.67,978.17 205.00,978.30 C213.33,978.43 223.75,979.02 230.00,979.10 C236.25,979.18 238.05,979.35 242.50,978.80 C246.95,978.25 252.53,977.13 256.70,975.80 C260.87,974.47 264.03,971.92 267.50,970.80 C270.97,969.68 273.98,969.23 277.50,969.10 C281.02,968.97 283.63,969.85 288.60,970.00 C293.57,970.15 300.40,970.00 307.30,970.00 C314.20,970.00 320.30,967.72 330.00,970.00 C339.70,972.28 355.78,979.90 365.50,983.70 C375.22,987.50 381.98,989.77 388.30,992.80 C394.62,995.83 398.02,998.62 403.40,1001.90 C408.78,1005.18 414.27,1013.25 420.60,1012.50 C426.93,1011.75 432.88,1001.95 441.40,997.40 C449.92,992.85 461.58,989.50 471.70,985.20 C481.82,980.90 492.55,974.67 502.10,971.60 C511.65,968.53 518.63,967.65 529.00,966.80 C539.37,965.95 555.53,966.43 564.30,966.50 C573.07,966.57 571.23,967.12 581.60,967.20 C591.97,967.28 613.22,967.43 626.50,967.00 C639.78,966.57 648.62,965.00 661.30,964.60 C673.98,964.20 689.82,963.97 702.60,964.60 C715.38,965.23 732.10,967.77 738.00,968.40 M158.50,1012.50 C160.70,1010.82 166.73,1005.47 171.70,1002.40 C176.67,999.33 183.45,996.73 188.30,994.10 C193.15,991.47 196.63,988.53 200.80,986.60 C204.97,984.67 208.43,983.60 213.30,982.50 C218.17,981.40 225.13,980.55 230.00,980.00 C234.87,979.45 237.83,979.87 242.50,979.20 C247.17,978.53 253.42,977.20 258.00,976.00 C262.58,974.80 264.90,972.90 270.00,972.00 C275.10,971.10 282.38,971.00 288.60,970.60 C294.82,970.20 300.40,969.62 307.30,969.60 C314.20,969.58 321.22,969.60 330.00,970.50 C338.78,971.40 350.28,973.55 360.00,975.00 C369.72,976.45 381.07,976.23 388.30,979.20 C395.53,982.17 398.02,987.25 403.40,992.80 C408.78,998.35 415.33,1011.30 420.60,1012.50 C425.87,1013.70 429.02,1005.42 435.00,1000.00 C440.98,994.58 450.38,985.33 456.50,980.00 C462.62,974.67 466.12,970.83 471.70,968.00 C477.28,965.17 480.45,963.28 490.00,963.00 C499.55,962.72 516.62,965.33 529.00,966.30 C541.38,967.27 555.53,968.32 564.30,968.80 C573.07,969.28 571.23,969.53 581.60,969.20 C591.97,968.87 613.22,966.67 626.50,966.80 C639.78,966.93 648.62,969.47 661.30,970.00 C673.98,970.53 693.65,969.33 702.60,970.00 C711.55,970.67 709.10,972.70 715.00,974.00 C720.90,975.30 734.17,977.17 738.00,977.80" fill="none" stroke="#00007e" stroke-width="2.3" stroke-linejoin="round" stroke-linecap="round"/>
<rect x="166" y="586" width="64" height="55" fill="#fff"/>
<text x="198.7" y="627.4" font-family="Liberation Sans" font-size="37" text-anchor="middle" fill="#000" >(d)</text>
<text x="411.4" y="639.5" font-family="Liberation Sans" font-size="29.5" fill="#ff0000">T<tspan font-size="20.5" dy="9.3">1</tspan></text>
<text x="410.4" y="710.8" font-family="Liberation Sans" font-size="29.5" fill="#ff0000">T<tspan font-size="20.5" dy="9.3">2</tspan></text>
<text x="407.4" y="853.7" font-family="Liberation Sans" font-size="29.5" fill="#ff0000">A<tspan font-size="20.5" dy="9.3">1</tspan></text>
<text x="408.9" y="912.5" font-family="Liberation Sans" font-size="29.5" fill="#ff0000">T<tspan font-size="20.5" dy="9.3">1</tspan></text>
<text x="406.7" y="961.7" font-family="Liberation Sans" font-size="29.5" fill="#ff0000">T<tspan font-size="20.5" dy="9.3">2</tspan></text>
<rect x="158.5" y="579.5" width="579.7" height="433.79999999999995" fill="none" stroke="#000" stroke-width="1.6"/>
<line x1="158.5" y1="926.54" x2="170.0" y2="926.54" stroke="#000" stroke-width="1.4"/>
<line x1="158.5" y1="839.78" x2="170.0" y2="839.78" stroke="#000" stroke-width="1.4"/>
<line x1="158.5" y1="753.02" x2="170.0" y2="753.02" stroke="#000" stroke-width="1.4"/>
<line x1="158.5" y1="666.26" x2="170.0" y2="666.26" stroke="#000" stroke-width="1.4"/>
<line x1="158.5" y1="969.92" x2="165.0" y2="969.92" stroke="#000" stroke-width="1.4"/>
<line x1="158.5" y1="883.16" x2="165.0" y2="883.16" stroke="#000" stroke-width="1.4"/>
<line x1="158.5" y1="796.4" x2="165.0" y2="796.4" stroke="#000" stroke-width="1.4"/>
<line x1="158.5" y1="709.64" x2="165.0" y2="709.64" stroke="#000" stroke-width="1.4"/>
<line x1="158.5" y1="622.88" x2="165.0" y2="622.88" stroke="#000" stroke-width="1.4"/>
<text x="144.6" y="1023.6999999999999" font-family="Liberation Sans" font-size="33.5" text-anchor="end" fill="#000" >0</text>
<text x="144.6" y="936.9399999999999" font-family="Liberation Sans" font-size="33.5" text-anchor="end" fill="#000" >400</text>
<text x="144.6" y="850.18" font-family="Liberation Sans" font-size="33.5" text-anchor="end" fill="#000" >800</text>
<text x="144.6" y="763.42" font-family="Liberation Sans" font-size="33.5" text-anchor="end" fill="#000" >1200</text>
<text x="144.6" y="676.66" font-family="Liberation Sans" font-size="33.5" text-anchor="end" fill="#000" >1600</text>
<text x="144.6" y="589.9" font-family="Liberation Sans" font-size="33.5" text-anchor="end" fill="#000" >2000</text>
<text x="160.8" y="1048.5" font-family="Liberation Serif" font-size="35" text-anchor="middle" fill="#000" >Γ</text>
<text x="238.3" y="1048.5" font-family="Liberation Sans" font-size="33.5" text-anchor="middle" fill="#000" >X</text>
<text x="297.7" y="1048.5" font-family="Liberation Sans" font-size="33.5" text-anchor="middle" fill="#000" >WK</text>
<text x="426.1" y="1048.5" font-family="Liberation Serif" font-size="35" text-anchor="middle" fill="#000" >Γ</text>
<text x="528.3" y="1048.5" font-family="Liberation Sans" font-size="33.5" text-anchor="middle" fill="#000" >L</text>
<text x="573" y="1048.5" font-family="Liberation Sans" font-size="33.5" text-anchor="middle" fill="#000" >UW</text>
<text x="631.4" y="1048.5" font-family="Liberation Sans" font-size="33.5" text-anchor="middle" fill="#000" >L</text>
<text x="661.6" y="1048.5" font-family="Liberation Sans" font-size="33.5" text-anchor="middle" fill="#000" >K</text>
<text x="701.7" y="1048.5" font-family="Liberation Sans" font-size="33.5" text-anchor="middle" fill="#000" >U</text>
<text x="743" y="1048.5" font-family="Liberation Sans" font-size="33.5" text-anchor="middle" fill="#000" >X</text>
<text transform="translate(37.4,795.5) rotate(-90)" font-family="Liberation Sans" font-size="37.5" text-anchor="middle">Frequency (cm<tspan font-size="25" dy="-17">-1</tspan><tspan dy="17">)</tspan></text>
<path d="M802.70,56.00 L802.70,128.00" fill="none" stroke="#33ff00" stroke-width="1.6" stroke-linejoin="round"/>
<path d="M801.90,56.70 L808.20,60.50 L811.00,64.00" fill="none" stroke="#0000ff" stroke-width="2.0" stroke-linejoin="round"/>
<path d="M812.60,79.80 L813.30,95.50 L814.70,100.60 L835.00,104.80 L851.70,108.00 L855.40,112.00 L852.10,116.30 L870.60,120.30 L844.30,121.40 L825.80,123.70 L802.60,128.30" fill="none" stroke="#0000ff" stroke-width="2.0" stroke-linejoin="round"/>
<path d="M802.70,128.30 L802.70,208.80" fill="none" stroke="#0000ff" stroke-width="1.6" stroke-linejoin="round"/>
<path d="M802.00,208.80 L839.00,215.60 L836.90,220.70 L912.70,222.80 L1002.80,225.80 L1054.00,228.30 L1023.30,228.90 L957.80,232.60 L972.10,234.00 L990.50,236.50 L974.20,236.70 L939.30,238.80 L905.50,240.20 L941.40,242.20 L1019.20,243.90 L992.60,245.30 L900.40,249.40 L828.70,256.00 L810.30,260.70 L809.30,271.90 L808.20,300.00 L808.00,304.30 L813.40,308.40 L809.30,311.50 L809.00,320.70 L802.50,324.80 L822.60,331.00 L827.70,339.20 L810.30,344.30 L806.20,351.40 L809.30,360.70 L809.30,382.20 L816.40,389.30 L819.50,396.50 L802.50,400.60 L804.00,425.00 L802.50,449.00" fill="none" stroke="#0000ff" stroke-width="2.0" stroke-linejoin="round"/>
<path d="M802.00,220.70 L806.20,227.90 L820.50,236.10 L809.30,240.20 L817.50,243.70 L806.20,249.40 L802.30,255.50" fill="none" stroke="#33ff00" stroke-width="2.0" stroke-linejoin="round"/>
<path d="M802.30,255.50 L802.30,304.30" fill="none" stroke="#33ff00" stroke-width="1.4" stroke-linejoin="round"/>
<path d="M802.20,226.00 L804.50,232.00 L804.50,248.00 L802.20,252.00" fill="none" stroke="#ff0000" stroke-width="1.6" stroke-linejoin="round"/>
<path d="M802.00,304.30 L805.00,309.50 L822.60,311.50 L890.20,314.20 L961.90,315.60 L971.10,316.20 L957.80,319.70 L882.00,323.80 L972.10,325.20 L1091.00,326.50" fill="none" stroke="#33ff00" stroke-width="2.0" stroke-linejoin="round"/>
<path d="M1091.00,332.60 L982.40,334.00 L892.20,336.10 L941.40,338.10 L950.60,339.60 L890.20,342.20 L839.00,344.90 L808.20,351.00 L802.30,357.60 L802.30,388.30" fill="none" stroke="#33ff00" stroke-width="2.0" stroke-linejoin="round"/>
<path d="M802.00,302.30 L806.00,312.50 L803.00,323.80 L834.90,328.90 L849.20,332.00 L814.40,336.10 L824.60,339.20 L806.20,344.30 L802.30,351.40 L802.80,387.90" fill="none" stroke="#ff0000" stroke-width="2.0" stroke-linejoin="round"/>
<path d="M802.30,387.90 L900.40,390.40 L961.90,392.00 L904.50,396.10 L927.00,399.60 L841.00,403.70 L900.40,406.80 L1016.10,412.50 L900.40,416.00 L938.80,420.00" fill="none" stroke="#ff0000" stroke-width="2.0" stroke-linejoin="round"/>
<path d="M938.80,420.00 C931.53,421.27 910.40,425.67 895.20,427.60 C880.00,429.53 860.30,430.28 847.60,431.60 C834.90,432.92 825.35,434.05 819.00,435.50 C812.65,436.95 812.00,438.55 809.50,440.30 C807.00,442.05 805.20,444.55 804.00,446.00 C802.80,447.45 802.58,448.50 802.30,449.00" fill="none" stroke="#ff0000" stroke-width="2.0"/>
<path d="M802.30,388.30 C802.92,388.92 805.38,390.55 806.00,392.00 C806.00,393.45 806.00,395.67 806.00,397.00 C806.58,398.33 809.50,398.83 809.50,400.00 C809.42,401.17 806.08,402.92 805.50,404.00 C805.50,405.08 805.50,405.42 806.00,406.50 C806.75,407.58 808.33,409.08 810.00,410.50 C811.67,411.92 814.58,413.58 816.00,415.00 C817.42,416.42 818.12,417.75 818.50,419.00 C818.50,420.25 818.50,421.42 818.30,422.50 C817.80,423.58 816.88,424.42 815.50,425.50 C814.12,426.58 811.58,427.75 810.00,429.00 C808.42,430.25 807.13,431.17 806.00,433.00 C804.87,434.83 803.82,437.67 803.20,440.00 C802.58,442.33 802.45,445.83 802.30,447.00" fill="none" stroke="#33ff00" stroke-width="2.0"/>
<rect x="809" y="24" width="62" height="54" fill="#fff"/>
<text x="845.8" y="64" font-family="Liberation Sans" font-size="37" text-anchor="middle" fill="#000" >(b)</text>
<line x1="966.3" y1="111.5" x2="1039.7" y2="111.5" stroke="#ff0000" stroke-width="2.0"/>
<text x="1047.5" y="122.8" font-family="Liberation Sans" font-size="32" text-anchor="start" fill="#000" >Zr</text>
<line x1="966.3" y1="151.5" x2="1039.7" y2="151.5" stroke="#33ff00" stroke-width="2.0"/>
<text x="1047.5" y="162.8" font-family="Liberation Sans" font-size="32" text-anchor="start" fill="#000" >N</text>
<line x1="966.3" y1="191.3" x2="1039.7" y2="191.3" stroke="#0000ff" stroke-width="2.0"/>
<text x="1047.5" y="202.60000000000002" font-family="Liberation Sans" font-size="32" text-anchor="start" fill="#000" >H</text>
<path d="M801.9,15.0 L1092.0,15.0 L1092.0,449.3" fill="none" stroke="#000" stroke-width="1"/><path d="M801.9,14.5 L801.9,449.3 L1092.5,449.3" fill="none" stroke="#000" stroke-width="1.3"/>
<line x1="801.9" y1="387.1857142857143" x2="808.4" y2="387.1857142857143" stroke="#000" stroke-width="1.4"/>
<line x1="801.9" y1="325.07142857142856" x2="808.4" y2="325.07142857142856" stroke="#000" stroke-width="1.4"/>
<line x1="801.9" y1="262.95714285714286" x2="808.4" y2="262.95714285714286" stroke="#000" stroke-width="1.4"/>
<line x1="801.9" y1="200.84285714285716" x2="808.4" y2="200.84285714285716" stroke="#000" stroke-width="1.4"/>
<line x1="801.9" y1="138.72857142857146" x2="808.4" y2="138.72857142857146" stroke="#000" stroke-width="1.4"/>
<line x1="801.9" y1="76.6142857142857" x2="808.4" y2="76.6142857142857" stroke="#000" stroke-width="1.4"/>
<line x1="801.9" y1="418.24285714285713" x2="805.4" y2="418.24285714285713" stroke="#000" stroke-width="1.4"/>
<line x1="801.9" y1="356.12857142857143" x2="805.4" y2="356.12857142857143" stroke="#000" stroke-width="1.4"/>
<line x1="801.9" y1="294.01428571428573" x2="805.4" y2="294.01428571428573" stroke="#000" stroke-width="1.4"/>
<line x1="801.9" y1="231.9" x2="805.4" y2="231.9" stroke="#000" stroke-width="1.4"/>
<line x1="801.9" y1="169.78571428571428" x2="805.4" y2="169.78571428571428" stroke="#000" stroke-width="1.4"/>
<line x1="801.9" y1="107.67142857142858" x2="805.4" y2="107.67142857142858" stroke="#000" stroke-width="1.4"/>
<line x1="801.9" y1="45.55714285714288" x2="805.4" y2="45.55714285714288" stroke="#000" stroke-width="1.4"/>
<line x1="946.7" y1="449.3" x2="946.7" y2="442.3" stroke="#000" stroke-width="1.4"/>
<line x1="874.3" y1="449.3" x2="874.3" y2="446.1" stroke="#000" stroke-width="1.4"/>
<line x1="1019.0999999999999" y1="449.3" x2="1019.0999999999999" y2="446.1" stroke="#000" stroke-width="1.4"/>
<text x="801.9" y="481.8" font-family="Liberation Sans" font-size="32.5" text-anchor="middle" fill="#000" >0.000</text>
<text x="946.7" y="481.8" font-family="Liberation Sans" font-size="32.5" text-anchor="middle" fill="#000" >0.025</text>
<text x="1091.5" y="481.8" font-family="Liberation Sans" font-size="32.5" text-anchor="middle" fill="#000" >0.050</text>
<text x="946.5" y="518.5" font-family="Liberation Sans" font-size="32" text-anchor="middle" fill="#000" >PhDOS</text>
<path d="M1158.00,53.60 L1163.80,65.30 L1162.80,73.80 L1166.00,78.10 L1172.30,94.00 L1174.50,98.90 L1183.00,102.60 L1235.10,110.00 L1223.40,114.30 L1241.50,118.50 L1331.90,122.10 L1241.50,123.80 L1158.50,126.60 Z" fill="#88c87e" stroke="#4caf46" stroke-width="1.3" stroke-linejoin="round"/>
<path d="M1158.60,126.60 L1158.60,210.00" fill="none" stroke="#4caf46" stroke-width="1.2" stroke-linejoin="round"/>
<path d="M1158.00,210.00 L1160.60,217.40 L1229.80,221.70 L1192.60,226.00 L1266.20,230.10 L1217.20,238.00 L1179.10,242.50 L1197.00,244.70 L1200.40,250.30 L1167.90,253.70 L1158.00,260.40 Z" fill="#88c87e" stroke="#4caf46" stroke-width="1.3" stroke-linejoin="round"/>
<path d="M1158.60,260.40 L1158.60,299.50" fill="none" stroke="#4caf46" stroke-width="1.2" stroke-linejoin="round"/>
<path d="M1158.00,299.50 L1163.40,309.60 L1176.90,314.10 L1225.00,318.10 L1183.60,326.40 L1228.40,330.90 L1235.10,334.20 L1272.00,338.00 L1206.00,343.20 L1163.40,349.90 L1158.00,362.20 Z" fill="#88c87e" stroke="#4caf46" stroke-width="1.3" stroke-linejoin="round"/>
<path d="M1158.60,362.20 L1158.60,385.70" fill="none" stroke="#4caf46" stroke-width="1.2" stroke-linejoin="round"/>
<path d="M1158.00,385.70 L1217.20,389.10 L1167.90,402.10 L1212.70,409.20 L1192.50,413.70 L1248.50,420.40 L1210.40,426.00 L1207.10,428.30 L1172.40,432.70 L1172.40,440.60 L1158.00,447.30 L1158.00,449.00 Z" fill="#88c87e" stroke="#4caf46" stroke-width="1.3" stroke-linejoin="round"/>
<path d="M1404.70,53.60 C1404.70,57.68 1404.70,71.18 1404.70,78.10 C1404.52,85.02 1404.20,90.50 1403.60,95.10 C1403.00,99.70 1402.23,102.15 1401.10,105.70 C1399.97,109.25 1398.22,113.55 1396.80,116.40 C1395.38,119.25 1393.67,121.03 1392.60,122.80 C1391.53,124.57 1390.73,122.80 1390.40,127.00 C1390.40,142.25 1390.60,197.98 1390.60,214.30 C1390.25,224.90 1389.57,221.72 1388.30,224.90 C1387.03,228.08 1384.67,230.28 1383.00,233.40 C1381.33,236.52 1379.82,240.22 1378.30,243.60 C1376.78,246.98 1374.80,243.60 1373.90,253.70 C1373.00,264.88 1373.83,299.70 1372.90,310.70 C1371.97,319.70 1370.38,316.52 1368.30,319.70 C1366.22,322.88 1364.32,326.45 1360.40,329.80 C1356.48,333.15 1348.33,337.20 1344.80,339.80 C1341.27,342.40 1340.52,343.15 1339.20,345.40 C1337.88,347.65 1337.38,346.77 1336.90,353.30 C1336.42,359.83 1336.90,378.63 1336.30,384.60 C1335.37,389.10 1334.00,387.23 1331.30,389.10 C1328.60,390.97 1323.08,393.57 1320.10,395.80 C1317.12,398.03 1315.63,400.63 1313.40,402.50 C1311.17,404.37 1311.55,404.75 1306.70,407.00 C1301.85,409.25 1293.63,413.38 1284.30,416.00 C1274.97,418.62 1260.02,420.92 1250.70,422.70 C1241.38,424.48 1235.85,425.22 1228.40,426.70 C1220.95,428.18 1213.47,429.47 1206.00,431.60 C1198.53,433.73 1191.43,436.88 1183.60,439.50 C1175.77,442.12 1163.10,446.00 1159.00,447.30" fill="none" stroke="#ff2a86" stroke-width="4" stroke-linecap="round" stroke-linejoin="round"/>
<rect x="1165" y="22" width="62" height="52" fill="#fff" fill-opacity="0"/>
<text x="1201.9" y="62" font-family="Liberation Sans" font-size="37" text-anchor="middle" fill="#000" >(c)</text>
<rect x="1251.5" y="142.5" width="72" height="35.5" fill="#88c87e" stroke="#4caf46" stroke-width="1.3"/>
<line x1="1252" y1="200.3" x2="1322.5" y2="200.3" stroke="#ff2a86" stroke-width="4.5" stroke-linecap="round"/>
<text x="1332.5" y="170.5" font-family="Liberation Serif" font-size="32">α</text>
<text x="1350.7" y="155.3" font-family="Liberation Sans" font-size="24.5">2</text>
<text x="1365.4" y="171" font-family="Liberation Sans" font-size="31.5">F</text>
<text x="1394.6" y="170.8" font-family="Liberation Serif" font-size="32.5">(ω)</text>
<text x="1333" y="212" font-family="Liberation Serif" font-size="32">λ</text>
<text x="1355.7" y="211.2" font-family="Liberation Serif" font-size="32.5">(ω)</text>
<path d="M1157.7,15.0 L1447.5,15.0 L1447.5,449.3" fill="none" stroke="#000" stroke-width="1"/><path d="M1157.7,14.5 L1157.7,449.3 L1448.0,449.3" fill="none" stroke="#000" stroke-width="1.3"/>
<line x1="1157.7" y1="387.1857142857143" x2="1164.2" y2="387.1857142857143" stroke="#000" stroke-width="1.4"/>
<line x1="1157.7" y1="325.07142857142856" x2="1164.2" y2="325.07142857142856" stroke="#000" stroke-width="1.4"/>
<line x1="1157.7" y1="262.95714285714286" x2="1164.2" y2="262.95714285714286" stroke="#000" stroke-width="1.4"/>
<line x1="1157.7" y1="200.84285714285716" x2="1164.2" y2="200.84285714285716" stroke="#000" stroke-width="1.4"/>
<line x1="1157.7" y1="138.72857142857146" x2="1164.2" y2="138.72857142857146" stroke="#000" stroke-width="1.4"/>
<line x1="1157.7" y1="76.6142857142857" x2="1164.2" y2="76.6142857142857" stroke="#000" stroke-width="1.4"/>
<line x1="1157.7" y1="418.24285714285713" x2="1161.2" y2="418.24285714285713" stroke="#000" stroke-width="1.4"/>
<line x1="1157.7" y1="356.12857142857143" x2="1161.2" y2="356.12857142857143" stroke="#000" stroke-width="1.4"/>
<line x1="1157.7" y1="294.01428571428573" x2="1161.2" y2="294.01428571428573" stroke="#000" stroke-width="1.4"/>
<line x1="1157.7" y1="231.9" x2="1161.2" y2="231.9" stroke="#000" stroke-width="1.4"/>
<line x1="1157.7" y1="169.78571428571428" x2="1161.2" y2="169.78571428571428" stroke="#000" stroke-width="1.4"/>
<line x1="1157.7" y1="107.67142857142858" x2="1161.2" y2="107.67142857142858" stroke="#000" stroke-width="1.4"/>
<line x1="1157.7" y1="45.55714285714288" x2="1161.2" y2="45.55714285714288" stroke="#000" stroke-width="1.4"/>
<line x1="1289.35" y1="449.3" x2="1289.35" y2="442.3" stroke="#000" stroke-width="1.4"/>
<line x1="1421.0" y1="449.3" x2="1421.0" y2="442.3" stroke="#000" stroke-width="1.4"/>
<line x1="1223.525" y1="449.3" x2="1223.525" y2="446.1" stroke="#000" stroke-width="1.4"/>
<line x1="1355.175" y1="449.3" x2="1355.175" y2="446.1" stroke="#000" stroke-width="1.4"/>
<text x="1157.7" y="481.8" font-family="Liberation Sans" font-size="32.5" text-anchor="middle" fill="#000" >0.0</text>
<text x="1289.35" y="481.8" font-family="Liberation Sans" font-size="32.5" text-anchor="middle" fill="#000" >0.5</text>
<text x="1421.0" y="481.8" font-family="Liberation Sans" font-size="32.5" text-anchor="middle" fill="#000" >1.0</text>
<path d="M802.30,644.70 L857.50,646.80 L940.70,650.00 L979.30,653.10 L961.60,653.70 L924.10,657.20 L961.60,658.30 L1004.20,660.40 L972.00,661.40 L899.10,668.70 L961.60,673.90 L1017.80,676.60 L940.70,677.40 L857.50,679.10 L802.30,680.80" fill="none" stroke="#0000ff" stroke-width="2.0" stroke-linejoin="round"/>
<path d="M802.30,680.80 L802.30,845.00" fill="none" stroke="#0000ff" stroke-width="1.6" stroke-linejoin="round"/>
<path d="M802.50,646.00 L808.00,654.10 L812.70,660.40 L807.00,664.50 L807.00,672.90 L802.50,679.10" fill="none" stroke="#33ff00" stroke-width="2.0" stroke-linejoin="round"/>
<path d="M802.80,650.00 L804.50,656.00 L804.50,674.00 L802.80,678.00" fill="none" stroke="#ff0000" stroke-width="1.5" stroke-linejoin="round"/>
<path d="M802.30,845.10 L847.20,848.80 L859.40,852.20 L863.50,856.30 L920.90,859.40 L952.60,860.80 L865.60,864.90 L941.40,868.20 L1002.80,872.10 L941.40,873.70 L898.40,876.20 L910.70,879.90 L853.30,883.60 L848.20,887.70 L862.50,891.80 L843.10,895.20 L802.30,898.70" fill="none" stroke="#33ff00" stroke-width="2.0" stroke-linejoin="round"/>
<path d="M802.30,845.00 L805.00,854.30 L810.30,861.50 L807.20,865.50 L814.40,872.10 L811.30,876.80 L815.40,879.90 L808.20,884.00 L811.30,893.20 L802.30,898.30" fill="none" stroke="#ff0000" stroke-width="2.0" stroke-linejoin="round"/>
<path d="M802.30,845.00 L805.00,858.00 L807.00,864.00 L811.30,871.70 L806.00,877.00 L807.00,884.00 L805.00,890.00 L806.00,895.00 L802.30,898.00" fill="none" stroke="#0000ff" stroke-width="2.0" stroke-linejoin="round"/>
<path d="M802.30,927.00 L839.00,934.20 L886.10,937.60 L839.00,947.50 L826.70,952.60 L825.70,957.70 L828.70,960.80 L941.40,963.90 L1046.90,968.40 L961.90,972.10 L949.60,976.60" fill="none" stroke="#ff0000" stroke-width="2.0" stroke-linejoin="round"/>
<path d="M949.60,976.60 C937.98,977.03 898.33,977.90 879.90,979.20 C861.47,980.50 849.23,982.52 839.00,984.40 C828.77,986.28 823.67,988.07 818.50,990.50 C813.33,992.93 810.50,996.42 808.00,999.00 C805.50,1001.58 804.45,1003.67 803.50,1006.00 C802.55,1008.33 802.50,1011.83 802.30,1013.00" fill="none" stroke="#ff0000" stroke-width="2.0"/>
<path d="M802.30,929.00 L806.00,939.30 L805.00,943.40 L802.30,961.80 L810.30,963.90 L820.50,975.70 L808.20,984.40 L802.30,996.60" fill="none" stroke="#33ff00" stroke-width="2.0" stroke-linejoin="round"/>
<path d="M802.60,898.00 L802.60,1013.00" fill="none" stroke="#0000ff" stroke-width="1.6" stroke-linejoin="round"/>
<rect x="810" y="589" width="62" height="54" fill="#fff" fill-opacity="0"/>
<text x="845.5" y="625.3" font-family="Liberation Sans" font-size="37" text-anchor="middle" fill="#000" >(e)</text>
<line x1="969.9" y1="706.6" x2="1042.8" y2="706.6" stroke="#ff0000" stroke-width="2.0"/>
<text x="1050.5" y="717.9" font-family="Liberation Sans" font-size="32" text-anchor="start" fill="#000" >Zr</text>
<line x1="969.9" y1="746.8" x2="1042.8" y2="746.8" stroke="#33ff00" stroke-width="2.0"/>
<text x="1050.5" y="758.0999999999999" font-family="Liberation Sans" font-size="32" text-anchor="start" fill="#000" >N</text>
<line x1="969.9" y1="786.3" x2="1042.8" y2="786.3" stroke="#0000ff" stroke-width="2.0"/>
<text x="1050.5" y="797.5999999999999" font-family="Liberation Sans" font-size="32" text-anchor="start" fill="#000" >H</text>
<path d="M801.9,580.0 L1092.0,580.0 L1092.0,1013.3" fill="none" stroke="#000" stroke-width="1"/><path d="M801.9,579.5 L801.9,1013.3 L1092.5,1013.3" fill="none" stroke="#000" stroke-width="1.3"/>
<line x1="801.9" y1="926.54" x2="808.4" y2="926.54" stroke="#000" stroke-width="1.4"/>
<line x1="801.9" y1="839.78" x2="808.4" y2="839.78" stroke="#000" stroke-width="1.4"/>
<line x1="801.9" y1="753.02" x2="808.4" y2="753.02" stroke="#000" stroke-width="1.4"/>
<line x1="801.9" y1="666.26" x2="808.4" y2="666.26" stroke="#000" stroke-width="1.4"/>
<line x1="801.9" y1="969.92" x2="805.4" y2="969.92" stroke="#000" stroke-width="1.4"/>
<line x1="801.9" y1="883.16" x2="805.4" y2="883.16" stroke="#000" stroke-width="1.4"/>
<line x1="801.9" y1="796.4" x2="805.4" y2="796.4" stroke="#000" stroke-width="1.4"/>
<line x1="801.9" y1="709.64" x2="805.4" y2="709.64" stroke="#000" stroke-width="1.4"/>
<line x1="801.9" y1="622.88" x2="805.4" y2="622.88" stroke="#000" stroke-width="1.4"/>
<line x1="898.4333333333334" y1="1013.3" x2="898.4333333333334" y2="1006.3" stroke="#000" stroke-width="1.4"/>
<line x1="994.9666666666667" y1="1013.3" x2="994.9666666666667" y2="1006.3" stroke="#000" stroke-width="1.4"/>
<line x1="850.1666666666666" y1="1013.3" x2="850.1666666666666" y2="1010.0999999999999" stroke="#000" stroke-width="1.4"/>
<line x1="946.7" y1="1013.3" x2="946.7" y2="1010.0999999999999" stroke="#000" stroke-width="1.4"/>
<line x1="1043.2333333333333" y1="1013.3" x2="1043.2333333333333" y2="1010.0999999999999" stroke="#000" stroke-width="1.4"/>
<text x="801.9" y="1046" font-family="Liberation Sans" font-size="32.5" text-anchor="middle" fill="#000" >0.00</text>
<text x="898.4333333333334" y="1046" font-family="Liberation Sans" font-size="32.5" text-anchor="middle" fill="#000" >0.05</text>
<text x="994.9666666666667" y="1046" font-family="Liberation Sans" font-size="32.5" text-anchor="middle" fill="#000" >0.10</text>
<text x="1091.5" y="1046" font-family="Liberation Sans" font-size="32.5" text-anchor="middle" fill="#000" >0.15</text>
<text x="946.5" y="1077.5" font-family="Liberation Sans" font-size="32" text-anchor="middle" fill="#000" >PhDOS</text>
<path d="M1158.00,643.70 L1166.70,647.50 L1241.60,651.00 L1245.80,654.10 L1293.70,658.90 L1272.80,664.50 L1277.00,670.40 L1417.50,674.50 L1354.00,676.00 L1166.70,678.10 L1158.00,681.20 Z" fill="#88c87e" stroke="#4caf46" stroke-width="1.3" stroke-linejoin="round"/>
<path d="M1158.60,681.20 L1158.60,843.30" fill="none" stroke="#4caf46" stroke-width="1.2" stroke-linejoin="round"/>
<path d="M1158.00,843.30 L1199.10,850.60 L1198.10,853.80 L1216.90,857.90 L1219.00,863.20 L1327.70,868.40 L1381.00,870.10 L1275.40,873.60 L1235.70,877.80 L1233.60,882.00 L1219.00,885.80 L1292.20,892.00 L1321.40,893.50 L1254.50,895.60 L1166.70,897.00 L1158.00,899.80 Z" fill="#88c87e" stroke="#4caf46" stroke-width="1.3" stroke-linejoin="round"/>
<path d="M1158.60,899.80 L1158.60,929.00" fill="none" stroke="#4caf46" stroke-width="1.2" stroke-linejoin="round"/>
<path d="M1158.00,929.00 L1175.10,934.30 L1183.50,938.40 L1205.40,939.50 L1183.50,942.60 L1174.00,951.00 L1174.00,959.30 L1179.30,962.50 L1221.10,966.00 L1231.50,969.80 L1223.20,975.00 L1242.00,977.70 L1212.70,979.20 L1191.80,985.50 L1170.90,992.80 L1166.70,999.10 L1158.00,1007.40 Z" fill="#88c87e" stroke="#4caf46" stroke-width="1.3" stroke-linejoin="round"/>
<path d="M1375.30,643.70 C1375.15,644.75 1375.30,647.22 1374.40,650.00 C1373.28,652.78 1370.60,657.28 1368.60,660.40 C1366.60,663.52 1364.48,666.10 1362.40,668.70 C1360.32,671.30 1357.38,673.95 1356.10,676.00 C1354.82,678.05 1354.90,676.00 1354.70,681.00 C1354.70,709.42 1354.90,817.70 1354.90,846.50 C1354.42,853.80 1353.20,851.55 1351.80,853.80 C1350.40,856.05 1348.77,857.92 1346.50,860.00 C1344.23,862.08 1341.68,864.20 1338.20,866.30 C1334.72,868.40 1329.08,870.68 1325.60,872.60 C1322.12,874.52 1320.43,875.37 1317.30,877.80 C1314.17,880.23 1310.28,884.77 1306.80,887.20 C1303.32,889.63 1298.90,890.83 1296.40,892.40 C1293.90,893.97 1292.82,895.20 1291.80,896.60 C1290.78,898.00 1290.55,896.60 1290.30,900.80 C1290.30,906.55 1290.30,925.17 1290.30,931.10 C1289.92,936.40 1289.60,933.95 1288.00,936.40 C1286.40,938.85 1283.48,941.80 1280.70,945.80 C1277.92,949.80 1273.92,957.27 1271.30,960.40 C1268.68,963.53 1269.53,962.68 1265.00,964.60 C1260.47,966.52 1252.82,969.47 1244.10,971.90 C1235.38,974.33 1221.42,976.77 1212.70,979.20 C1203.98,981.63 1198.77,983.18 1191.80,986.50 C1184.83,989.82 1176.47,994.92 1170.90,999.10 C1165.33,1003.28 1160.48,1009.52 1158.40,1011.60" fill="none" stroke="#ff2a86" stroke-width="4" stroke-linecap="round" stroke-linejoin="round"/>
<text x="1188.9" y="623.2" font-family="Liberation Sans" font-size="37" text-anchor="middle" fill="#000" >(f)</text>
<rect x="1253.5" y="714" width="71.5" height="35.5" fill="#88c87e" stroke="#4caf46" stroke-width="1.3"/>
<line x1="1253.5" y1="772.1" x2="1325" y2="772.1" stroke="#ff2a86" stroke-width="4.8" stroke-linecap="round"/>
<text x="1334.6" y="742.2" font-family="Liberation Serif" font-size="32">α</text>
<text x="1352.8" y="727.5" font-family="Liberation Sans" font-size="24.5">2</text>
<text x="1367.2" y="742.4" font-family="Liberation Sans" font-size="31.5">F</text>
<text x="1396.7" y="742.8" font-family="Liberation Serif" font-size="32.5">(ω)</text>
<text x="1333" y="782" font-family="Liberation Serif" font-size="32">λ</text>
<text x="1357.9" y="782.4" font-family="Liberation Serif" font-size="32.5">(ω)</text>
<path d="M1157.7,580.0 L1447.5,580.0 L1447.5,1013.3" fill="none" stroke="#000" stroke-width="1"/><path d="M1157.7,579.5 L1157.7,1013.3 L1448.0,1013.3" fill="none" stroke="#000" stroke-width="1.3"/>
<line x1="1157.7" y1="926.54" x2="1164.2" y2="926.54" stroke="#000" stroke-width="1.4"/>
<line x1="1157.7" y1="839.78" x2="1164.2" y2="839.78" stroke="#000" stroke-width="1.4"/>
<line x1="1157.7" y1="753.02" x2="1164.2" y2="753.02" stroke="#000" stroke-width="1.4"/>
<line x1="1157.7" y1="666.26" x2="1164.2" y2="666.26" stroke="#000" stroke-width="1.4"/>
<line x1="1157.7" y1="969.92" x2="1161.2" y2="969.92" stroke="#000" stroke-width="1.4"/>
<line x1="1157.7" y1="883.16" x2="1161.2" y2="883.16" stroke="#000" stroke-width="1.4"/>
<line x1="1157.7" y1="796.4" x2="1161.2" y2="796.4" stroke="#000" stroke-width="1.4"/>
<line x1="1157.7" y1="709.64" x2="1161.2" y2="709.64" stroke="#000" stroke-width="1.4"/>
<line x1="1157.7" y1="622.88" x2="1161.2" y2="622.88" stroke="#000" stroke-width="1.4"/>
<line x1="1240.4666666666667" y1="1013.3" x2="1240.4666666666667" y2="1006.3" stroke="#000" stroke-width="1.4"/>
<line x1="1323.2333333333333" y1="1013.3" x2="1323.2333333333333" y2="1006.3" stroke="#000" stroke-width="1.4"/>
<line x1="1406.0" y1="1013.3" x2="1406.0" y2="1006.3" stroke="#000" stroke-width="1.4"/>
<line x1="1199.0833333333335" y1="1013.3" x2="1199.0833333333335" y2="1010.0999999999999" stroke="#000" stroke-width="1.4"/>
<line x1="1281.85" y1="1013.3" x2="1281.85" y2="1010.0999999999999" stroke="#000" stroke-width="1.4"/>
<line x1="1364.6166666666668" y1="1013.3" x2="1364.6166666666668" y2="1010.0999999999999" stroke="#000" stroke-width="1.4"/>
<text x="1157.7" y="1046" font-family="Liberation Sans" font-size="32.5" text-anchor="middle" fill="#000" >0.0</text>
<text x="1240.4666666666667" y="1046" font-family="Liberation Sans" font-size="32.5" text-anchor="middle" fill="#000" >0.5</text>
<text x="1323.2333333333333" y="1046" font-family="Liberation Sans" font-size="32.5" text-anchor="middle" fill="#000" >1.0</text>
<text x="1406.0" y="1046" font-family="Liberation Sans" font-size="32.5" text-anchor="middle" fill="#000" >1.5</text>
</svg>
</body></html>
